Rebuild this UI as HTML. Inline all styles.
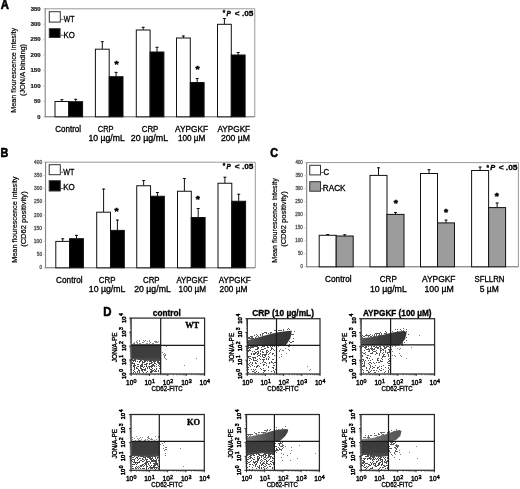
<!DOCTYPE html>
<html><head><meta charset="utf-8"><style>html,body{margin:0;padding:0;background:#fff;width:520px;height:489px;overflow:hidden}svg{display:block;filter:blur(0.3px)}</style></head><body>
<svg width="520" height="489" viewBox="0 0 520 489">
<rect width="520" height="489" fill="#fff"/>
<text x="0.82" y="8.80" font-size="12.3" font-weight="bold" font-style="normal" font-family="'Liberation Sans', Arial, sans-serif" fill="#000" textLength="8.18" lengthAdjust="spacingAndGlyphs" stroke="#000" stroke-width="0.6">A</text>
<text x="0.38" y="156.70" font-size="12.3" font-weight="bold" font-style="normal" font-family="'Liberation Sans', Arial, sans-serif" fill="#000" textLength="7.82" lengthAdjust="spacingAndGlyphs" stroke="#000" stroke-width="0.6">B</text>
<text x="270.36" y="156.90" font-size="12.3" font-weight="bold" font-style="normal" font-family="'Liberation Sans', Arial, sans-serif" fill="#000" textLength="7.73" lengthAdjust="spacingAndGlyphs" stroke="#000" stroke-width="0.6">C</text>
<text x="103.24" y="315.90" font-size="12.3" font-weight="bold" font-style="normal" font-family="'Liberation Sans', Arial, sans-serif" fill="#000" textLength="8.24" lengthAdjust="spacingAndGlyphs" stroke="#000" stroke-width="0.6">D</text>
<line x1="45.20" y1="8.80" x2="254.80" y2="8.80" stroke="#999" stroke-width="1"/>
<line x1="254.80" y1="8.80" x2="254.80" y2="116.80" stroke="#999" stroke-width="1"/>
<line x1="45.20" y1="8.30" x2="45.20" y2="117.30" stroke="#777" stroke-width="1"/>
<line x1="45.20" y1="116.80" x2="254.80" y2="116.80" stroke="#666" stroke-width="1"/>
<line x1="43.20" y1="116.80" x2="45.20" y2="116.80" stroke="#bbb" stroke-width="0.8"/>
<text x="37.32" y="118.60" font-size="5" font-weight="bold" font-style="normal" font-family="'Liberation Sans', Arial, sans-serif" fill="#222" textLength="3.22" lengthAdjust="spacingAndGlyphs" stroke="#222" stroke-width="0.22">0</text>
<line x1="43.20" y1="101.37" x2="45.20" y2="101.37" stroke="#bbb" stroke-width="0.8"/>
<text x="34.02" y="103.17" font-size="5" font-weight="bold" font-style="normal" font-family="'Liberation Sans', Arial, sans-serif" fill="#222" textLength="6.52" lengthAdjust="spacingAndGlyphs" stroke="#222" stroke-width="0.22">50</text>
<line x1="43.20" y1="85.94" x2="45.20" y2="85.94" stroke="#bbb" stroke-width="0.8"/>
<text x="30.47" y="87.74" font-size="5" font-weight="bold" font-style="normal" font-family="'Liberation Sans', Arial, sans-serif" fill="#222" textLength="10.08" lengthAdjust="spacingAndGlyphs" stroke="#222" stroke-width="0.22">100</text>
<line x1="43.20" y1="70.51" x2="45.20" y2="70.51" stroke="#bbb" stroke-width="0.8"/>
<text x="30.47" y="72.31" font-size="5" font-weight="bold" font-style="normal" font-family="'Liberation Sans', Arial, sans-serif" fill="#222" textLength="10.08" lengthAdjust="spacingAndGlyphs" stroke="#222" stroke-width="0.22">150</text>
<line x1="43.20" y1="55.09" x2="45.20" y2="55.09" stroke="#bbb" stroke-width="0.8"/>
<text x="30.64" y="56.89" font-size="5" font-weight="bold" font-style="normal" font-family="'Liberation Sans', Arial, sans-serif" fill="#222" textLength="9.90" lengthAdjust="spacingAndGlyphs" stroke="#222" stroke-width="0.22">200</text>
<line x1="43.20" y1="39.66" x2="45.20" y2="39.66" stroke="#bbb" stroke-width="0.8"/>
<text x="30.64" y="41.46" font-size="5" font-weight="bold" font-style="normal" font-family="'Liberation Sans', Arial, sans-serif" fill="#222" textLength="9.90" lengthAdjust="spacingAndGlyphs" stroke="#222" stroke-width="0.22">250</text>
<line x1="43.20" y1="24.23" x2="45.20" y2="24.23" stroke="#bbb" stroke-width="0.8"/>
<text x="30.71" y="26.03" font-size="5" font-weight="bold" font-style="normal" font-family="'Liberation Sans', Arial, sans-serif" fill="#222" textLength="9.83" lengthAdjust="spacingAndGlyphs" stroke="#222" stroke-width="0.22">300</text>
<line x1="43.20" y1="8.80" x2="45.20" y2="8.80" stroke="#bbb" stroke-width="0.8"/>
<text x="30.71" y="10.60" font-size="5" font-weight="bold" font-style="normal" font-family="'Liberation Sans', Arial, sans-serif" fill="#222" textLength="9.83" lengthAdjust="spacingAndGlyphs" stroke="#222" stroke-width="0.22">350</text>
<line x1="61.90" y1="99.20" x2="61.90" y2="101.50" stroke="#111" stroke-width="1"/>
<line x1="60.40" y1="99.70" x2="63.40" y2="99.70" stroke="#111" stroke-width="1"/>
<rect x="55.00" y="101.50" width="13.80" height="15.30" fill="#fff" stroke="#111" stroke-width="1"/>
<line x1="75.70" y1="98.80" x2="75.70" y2="101.70" stroke="#111" stroke-width="1"/>
<line x1="74.20" y1="99.30" x2="77.20" y2="99.30" stroke="#111" stroke-width="1"/>
<rect x="68.80" y="101.70" width="13.80" height="15.10" fill="#000" stroke="#111" stroke-width="1"/>
<line x1="102.30" y1="41.20" x2="102.30" y2="49.20" stroke="#111" stroke-width="1"/>
<line x1="100.80" y1="41.70" x2="103.80" y2="41.70" stroke="#111" stroke-width="1"/>
<rect x="95.40" y="49.20" width="13.80" height="67.60" fill="#fff" stroke="#111" stroke-width="1"/>
<line x1="116.10" y1="71.90" x2="116.10" y2="76.70" stroke="#111" stroke-width="1"/>
<line x1="114.60" y1="72.40" x2="117.60" y2="72.40" stroke="#111" stroke-width="1"/>
<rect x="109.20" y="76.70" width="13.80" height="40.10" fill="#000" stroke="#111" stroke-width="1"/>
<line x1="143.20" y1="26.80" x2="143.20" y2="30.00" stroke="#111" stroke-width="1"/>
<line x1="141.70" y1="27.30" x2="144.70" y2="27.30" stroke="#111" stroke-width="1"/>
<rect x="136.30" y="30.00" width="13.80" height="86.80" fill="#fff" stroke="#111" stroke-width="1"/>
<line x1="157.00" y1="46.80" x2="157.00" y2="52.00" stroke="#111" stroke-width="1"/>
<line x1="155.50" y1="47.30" x2="158.50" y2="47.30" stroke="#111" stroke-width="1"/>
<rect x="150.10" y="52.00" width="13.80" height="64.80" fill="#000" stroke="#111" stroke-width="1"/>
<line x1="183.40" y1="35.50" x2="183.40" y2="38.00" stroke="#111" stroke-width="1"/>
<line x1="181.90" y1="36.00" x2="184.90" y2="36.00" stroke="#111" stroke-width="1"/>
<rect x="176.50" y="38.00" width="13.80" height="78.80" fill="#fff" stroke="#111" stroke-width="1"/>
<line x1="197.20" y1="78.00" x2="197.20" y2="82.50" stroke="#111" stroke-width="1"/>
<line x1="195.70" y1="78.50" x2="198.70" y2="78.50" stroke="#111" stroke-width="1"/>
<rect x="190.30" y="82.50" width="13.80" height="34.30" fill="#000" stroke="#111" stroke-width="1"/>
<line x1="224.40" y1="18.00" x2="224.40" y2="24.30" stroke="#111" stroke-width="1"/>
<line x1="222.90" y1="18.50" x2="225.90" y2="18.50" stroke="#111" stroke-width="1"/>
<rect x="217.50" y="24.30" width="13.80" height="92.50" fill="#fff" stroke="#111" stroke-width="1"/>
<line x1="238.20" y1="52.00" x2="238.20" y2="55.00" stroke="#111" stroke-width="1"/>
<line x1="236.70" y1="52.50" x2="239.70" y2="52.50" stroke="#111" stroke-width="1"/>
<rect x="231.30" y="55.00" width="13.80" height="61.80" fill="#000" stroke="#111" stroke-width="1"/>
<text x="114.46" y="67.22" font-size="8.4" font-weight="bold" font-family="'Liberation Sans', Arial, sans-serif" textLength="4.08" lengthAdjust="spacingAndGlyphs" stroke="#000" stroke-width="0.5">*</text>
<text x="195.46" y="71.72" font-size="8.4" font-weight="bold" font-family="'Liberation Sans', Arial, sans-serif" textLength="4.08" lengthAdjust="spacingAndGlyphs" stroke="#000" stroke-width="0.5">*</text>
<rect x="49.30" y="11.70" width="11.00" height="10.40" fill="#fff" stroke="#333" stroke-width="1"/>
<line x1="60.80" y1="19.40" x2="63.50" y2="19.40" stroke="#444" stroke-width="0.8"/>
<text x="63.77" y="21.70" font-size="8.8" font-weight="normal" font-style="normal" font-family="'Liberation Sans', Arial, sans-serif" fill="#000" textLength="10.69" lengthAdjust="spacingAndGlyphs" stroke="#000" stroke-width="0.32">WT</text>
<rect x="49.30" y="28.70" width="10.80" height="8.80" fill="#000" stroke="#333" stroke-width="1"/>
<line x1="60.60" y1="35.30" x2="63.80" y2="35.30" stroke="#444" stroke-width="0.8"/>
<text x="63.46" y="37.60" font-size="8.8" font-weight="normal" font-style="normal" font-family="'Liberation Sans', Arial, sans-serif" fill="#000" textLength="11.21" lengthAdjust="spacingAndGlyphs" stroke="#000" stroke-width="0.32">KO</text>
<text x="222.70" y="15.20" font-size="6.5" text-anchor="start" font-weight="bold" font-style="normal" font-family="'Liberation Sans', Arial, sans-serif" fill="#000" stroke="#000" stroke-width="0.3">*</text>
<text x="226.39" y="16.20" font-size="7.8" font-weight="bold" font-style="italic" font-family="'Liberation Sans', Arial, sans-serif" fill="#000" textLength="4.30" lengthAdjust="spacingAndGlyphs" stroke="#000" stroke-width="0.4">P</text>
<text x="234.85" y="16.20" font-size="7.8" font-weight="bold" font-style="normal" font-family="'Liberation Sans', Arial, sans-serif" fill="#000" textLength="18.58" lengthAdjust="spacingAndGlyphs" stroke="#000" stroke-width="0.3">&lt; .05</text>
<text x="55.29" y="132.40" font-size="8.6" font-weight="normal" font-style="normal" font-family="'Liberation Sans', Arial, sans-serif" fill="#000" textLength="25.74" lengthAdjust="spacingAndGlyphs" stroke="#000" stroke-width="0.32">Control</text>
<text x="97.72" y="132.20" font-size="8.6" font-weight="normal" font-style="normal" font-family="'Liberation Sans', Arial, sans-serif" fill="#000" textLength="15.88" lengthAdjust="spacingAndGlyphs" stroke="#000" stroke-width="0.32">CRP</text>
<text x="88.54" y="141.30" font-size="8.6" font-weight="normal" font-style="normal" font-family="'Liberation Sans', Arial, sans-serif" fill="#000" textLength="36.25" lengthAdjust="spacingAndGlyphs" stroke="#000" stroke-width="0.32">10 µg/mL</text>
<text x="141.70" y="132.20" font-size="8.6" font-weight="normal" font-style="normal" font-family="'Liberation Sans', Arial, sans-serif" fill="#000" textLength="16.72" lengthAdjust="spacingAndGlyphs" stroke="#000" stroke-width="0.32">CRP</text>
<text x="130.85" y="141.30" font-size="8.6" font-weight="normal" font-style="normal" font-family="'Liberation Sans', Arial, sans-serif" fill="#000" textLength="37.34" lengthAdjust="spacingAndGlyphs" stroke="#000" stroke-width="0.32">20 µg/mL</text>
<text x="175.08" y="132.20" font-size="8.6" font-weight="normal" font-style="normal" font-family="'Liberation Sans', Arial, sans-serif" fill="#000" textLength="33.04" lengthAdjust="spacingAndGlyphs" stroke="#000" stroke-width="0.32">AYPGKF</text>
<text x="177.88" y="141.30" font-size="8.6" font-weight="normal" font-style="normal" font-family="'Liberation Sans', Arial, sans-serif" fill="#000" textLength="27.50" lengthAdjust="spacingAndGlyphs" stroke="#000" stroke-width="0.32">100 µM</text>
<text x="217.48" y="132.20" font-size="8.6" font-weight="normal" font-style="normal" font-family="'Liberation Sans', Arial, sans-serif" fill="#000" textLength="32.64" lengthAdjust="spacingAndGlyphs" stroke="#000" stroke-width="0.32">AYPGKF</text>
<text x="220.96" y="141.30" font-size="8.6" font-weight="normal" font-style="normal" font-family="'Liberation Sans', Arial, sans-serif" fill="#000" textLength="29.05" lengthAdjust="spacingAndGlyphs" stroke="#000" stroke-width="0.32">200 µM</text>
<text transform="translate(15.50,112.69) rotate(-90)" font-size="7.2" font-weight="normal" font-style="normal" font-family="'Liberation Sans', Arial, sans-serif" fill="#000" textLength="84.80" lengthAdjust="spacingAndGlyphs" stroke="#000" stroke-width="0.2">Mean flourescence intesity</text>
<text transform="translate(24.80,96.05) rotate(-90)" font-size="7.2" font-weight="normal" font-style="normal" font-family="'Liberation Sans', Arial, sans-serif" fill="#000" textLength="52.11" lengthAdjust="spacingAndGlyphs" stroke="#000" stroke-width="0.2">(JON/A binding)</text>
<line x1="45.60" y1="162.20" x2="255.30" y2="162.20" stroke="#999" stroke-width="1"/>
<line x1="255.30" y1="162.20" x2="255.30" y2="267.80" stroke="#999" stroke-width="1"/>
<line x1="45.60" y1="161.70" x2="45.60" y2="268.30" stroke="#777" stroke-width="1"/>
<line x1="45.60" y1="267.80" x2="255.30" y2="267.80" stroke="#666" stroke-width="1"/>
<line x1="43.60" y1="267.80" x2="45.60" y2="267.80" stroke="#bbb" stroke-width="0.8"/>
<text x="39.57" y="269.40" font-size="4.6" font-weight="normal" font-style="normal" font-family="'Liberation Sans', Arial, sans-serif" fill="#555" textLength="2.50" lengthAdjust="spacingAndGlyphs" stroke="#555" stroke-width="0.3">0</text>
<line x1="43.60" y1="254.60" x2="45.60" y2="254.60" stroke="#bbb" stroke-width="0.8"/>
<text x="36.81" y="256.20" font-size="4.6" font-weight="normal" font-style="normal" font-family="'Liberation Sans', Arial, sans-serif" fill="#555" textLength="5.28" lengthAdjust="spacingAndGlyphs" stroke="#555" stroke-width="0.3">50</text>
<line x1="43.60" y1="241.40" x2="45.60" y2="241.40" stroke="#bbb" stroke-width="0.8"/>
<text x="33.87" y="243.00" font-size="4.6" font-weight="normal" font-style="normal" font-family="'Liberation Sans', Arial, sans-serif" fill="#555" textLength="8.22" lengthAdjust="spacingAndGlyphs" stroke="#555" stroke-width="0.3">100</text>
<line x1="43.60" y1="228.20" x2="45.60" y2="228.20" stroke="#bbb" stroke-width="0.8"/>
<text x="33.87" y="229.80" font-size="4.6" font-weight="normal" font-style="normal" font-family="'Liberation Sans', Arial, sans-serif" fill="#555" textLength="8.22" lengthAdjust="spacingAndGlyphs" stroke="#555" stroke-width="0.3">150</text>
<line x1="43.60" y1="215.00" x2="45.60" y2="215.00" stroke="#bbb" stroke-width="0.8"/>
<text x="34.01" y="216.60" font-size="4.6" font-weight="normal" font-style="normal" font-family="'Liberation Sans', Arial, sans-serif" fill="#555" textLength="8.08" lengthAdjust="spacingAndGlyphs" stroke="#555" stroke-width="0.3">200</text>
<line x1="43.60" y1="201.80" x2="45.60" y2="201.80" stroke="#bbb" stroke-width="0.8"/>
<text x="34.01" y="203.40" font-size="4.6" font-weight="normal" font-style="normal" font-family="'Liberation Sans', Arial, sans-serif" fill="#555" textLength="8.08" lengthAdjust="spacingAndGlyphs" stroke="#555" stroke-width="0.3">250</text>
<line x1="43.60" y1="188.60" x2="45.60" y2="188.60" stroke="#bbb" stroke-width="0.8"/>
<text x="34.07" y="190.20" font-size="4.6" font-weight="normal" font-style="normal" font-family="'Liberation Sans', Arial, sans-serif" fill="#555" textLength="8.02" lengthAdjust="spacingAndGlyphs" stroke="#555" stroke-width="0.3">300</text>
<line x1="43.60" y1="175.40" x2="45.60" y2="175.40" stroke="#bbb" stroke-width="0.8"/>
<text x="34.07" y="177.00" font-size="4.6" font-weight="normal" font-style="normal" font-family="'Liberation Sans', Arial, sans-serif" fill="#555" textLength="8.02" lengthAdjust="spacingAndGlyphs" stroke="#555" stroke-width="0.3">350</text>
<line x1="43.60" y1="162.20" x2="45.60" y2="162.20" stroke="#bbb" stroke-width="0.8"/>
<text x="34.14" y="163.80" font-size="4.6" font-weight="normal" font-style="normal" font-family="'Liberation Sans', Arial, sans-serif" fill="#555" textLength="7.95" lengthAdjust="spacingAndGlyphs" stroke="#555" stroke-width="0.3">400</text>
<line x1="62.70" y1="238.30" x2="62.70" y2="241.40" stroke="#111" stroke-width="1"/>
<line x1="61.20" y1="238.80" x2="64.20" y2="238.80" stroke="#111" stroke-width="1"/>
<rect x="55.80" y="241.40" width="13.80" height="26.40" fill="#fff" stroke="#111" stroke-width="1"/>
<line x1="76.50" y1="234.90" x2="76.50" y2="238.70" stroke="#111" stroke-width="1"/>
<line x1="75.00" y1="235.40" x2="78.00" y2="235.40" stroke="#111" stroke-width="1"/>
<rect x="69.60" y="238.70" width="13.80" height="29.10" fill="#000" stroke="#111" stroke-width="1"/>
<line x1="103.60" y1="188.60" x2="103.60" y2="212.20" stroke="#111" stroke-width="1"/>
<line x1="102.10" y1="189.10" x2="105.10" y2="189.10" stroke="#111" stroke-width="1"/>
<rect x="96.70" y="212.20" width="13.80" height="55.60" fill="#fff" stroke="#111" stroke-width="1"/>
<line x1="117.40" y1="219.60" x2="117.40" y2="230.40" stroke="#111" stroke-width="1"/>
<line x1="115.90" y1="220.10" x2="118.90" y2="220.10" stroke="#111" stroke-width="1"/>
<rect x="110.50" y="230.40" width="13.80" height="37.40" fill="#000" stroke="#111" stroke-width="1"/>
<line x1="143.65" y1="180.00" x2="143.65" y2="185.75" stroke="#111" stroke-width="1"/>
<line x1="142.15" y1="180.50" x2="145.15" y2="180.50" stroke="#111" stroke-width="1"/>
<rect x="136.75" y="185.75" width="13.80" height="82.05" fill="#fff" stroke="#111" stroke-width="1"/>
<line x1="157.45" y1="192.00" x2="157.45" y2="196.25" stroke="#111" stroke-width="1"/>
<line x1="155.95" y1="192.50" x2="158.95" y2="192.50" stroke="#111" stroke-width="1"/>
<rect x="150.55" y="196.25" width="13.80" height="71.55" fill="#000" stroke="#111" stroke-width="1"/>
<line x1="184.40" y1="178.00" x2="184.40" y2="191.25" stroke="#111" stroke-width="1"/>
<line x1="182.90" y1="178.50" x2="185.90" y2="178.50" stroke="#111" stroke-width="1"/>
<rect x="177.50" y="191.25" width="13.80" height="76.55" fill="#fff" stroke="#111" stroke-width="1"/>
<line x1="198.20" y1="208.00" x2="198.20" y2="217.50" stroke="#111" stroke-width="1"/>
<line x1="196.70" y1="208.50" x2="199.70" y2="208.50" stroke="#111" stroke-width="1"/>
<rect x="191.30" y="217.50" width="13.80" height="50.30" fill="#000" stroke="#111" stroke-width="1"/>
<line x1="224.90" y1="176.75" x2="224.90" y2="183.25" stroke="#111" stroke-width="1"/>
<line x1="223.40" y1="177.25" x2="226.40" y2="177.25" stroke="#111" stroke-width="1"/>
<rect x="218.00" y="183.25" width="13.80" height="84.55" fill="#fff" stroke="#111" stroke-width="1"/>
<line x1="238.70" y1="193.75" x2="238.70" y2="201.25" stroke="#111" stroke-width="1"/>
<line x1="237.20" y1="194.25" x2="240.20" y2="194.25" stroke="#111" stroke-width="1"/>
<rect x="231.80" y="201.25" width="13.80" height="66.55" fill="#000" stroke="#111" stroke-width="1"/>
<text x="114.46" y="214.22" font-size="8.4" font-weight="bold" font-family="'Liberation Sans', Arial, sans-serif" textLength="4.08" lengthAdjust="spacingAndGlyphs" stroke="#000" stroke-width="0.5">*</text>
<text x="195.71" y="202.22" font-size="8.4" font-weight="bold" font-family="'Liberation Sans', Arial, sans-serif" textLength="4.08" lengthAdjust="spacingAndGlyphs" stroke="#000" stroke-width="0.5">*</text>
<rect x="49.20" y="164.70" width="11.10" height="10.00" fill="#fff" stroke="#333" stroke-width="1"/>
<line x1="60.80" y1="172.30" x2="63.10" y2="172.30" stroke="#444" stroke-width="0.8"/>
<text x="63.37" y="174.80" font-size="8.8" font-weight="normal" font-style="normal" font-family="'Liberation Sans', Arial, sans-serif" fill="#000" textLength="11.10" lengthAdjust="spacingAndGlyphs" stroke="#000" stroke-width="0.32">WT</text>
<rect x="49.20" y="180.70" width="11.10" height="10.30" fill="#000" stroke="#333" stroke-width="1"/>
<line x1="60.80" y1="188.50" x2="63.50" y2="188.50" stroke="#444" stroke-width="0.8"/>
<text x="63.14" y="190.20" font-size="8.8" font-weight="normal" font-style="normal" font-family="'Liberation Sans', Arial, sans-serif" fill="#000" textLength="11.54" lengthAdjust="spacingAndGlyphs" stroke="#000" stroke-width="0.32">KO</text>
<text x="222.70" y="168.30" font-size="6.5" text-anchor="start" font-weight="bold" font-style="normal" font-family="'Liberation Sans', Arial, sans-serif" fill="#000" stroke="#000" stroke-width="0.3">*</text>
<text x="226.39" y="169.30" font-size="7.8" font-weight="bold" font-style="italic" font-family="'Liberation Sans', Arial, sans-serif" fill="#000" textLength="4.30" lengthAdjust="spacingAndGlyphs" stroke="#000" stroke-width="0.4">P</text>
<text x="234.85" y="169.30" font-size="7.8" font-weight="bold" font-style="normal" font-family="'Liberation Sans', Arial, sans-serif" fill="#000" textLength="18.58" lengthAdjust="spacingAndGlyphs" stroke="#000" stroke-width="0.3">&lt; .05</text>
<text x="56.08" y="282.80" font-size="8.6" font-weight="normal" font-style="normal" font-family="'Liberation Sans', Arial, sans-serif" fill="#000" textLength="26.47" lengthAdjust="spacingAndGlyphs" stroke="#000" stroke-width="0.32">Control</text>
<text x="98.80" y="282.80" font-size="8.6" font-weight="normal" font-style="normal" font-family="'Liberation Sans', Arial, sans-serif" fill="#000" textLength="16.72" lengthAdjust="spacingAndGlyphs" stroke="#000" stroke-width="0.32">CRP</text>
<text x="88.84" y="292.00" font-size="8.6" font-weight="normal" font-style="normal" font-family="'Liberation Sans', Arial, sans-serif" fill="#000" textLength="36.55" lengthAdjust="spacingAndGlyphs" stroke="#000" stroke-width="0.32">10 µg/mL</text>
<text x="143.00" y="282.80" font-size="8.6" font-weight="normal" font-style="normal" font-family="'Liberation Sans', Arial, sans-serif" fill="#000" textLength="16.61" lengthAdjust="spacingAndGlyphs" stroke="#000" stroke-width="0.32">CRP</text>
<text x="134.16" y="292.00" font-size="8.6" font-weight="normal" font-style="normal" font-family="'Liberation Sans', Arial, sans-serif" fill="#000" textLength="36.63" lengthAdjust="spacingAndGlyphs" stroke="#000" stroke-width="0.32">20 µg/mL</text>
<text x="176.48" y="282.80" font-size="8.6" font-weight="normal" font-style="normal" font-family="'Liberation Sans', Arial, sans-serif" fill="#000" textLength="31.22" lengthAdjust="spacingAndGlyphs" stroke="#000" stroke-width="0.32">AYPGKF</text>
<text x="178.58" y="292.00" font-size="8.6" font-weight="normal" font-style="normal" font-family="'Liberation Sans', Arial, sans-serif" fill="#000" textLength="27.50" lengthAdjust="spacingAndGlyphs" stroke="#000" stroke-width="0.32">100 µM</text>
<text x="218.78" y="282.80" font-size="8.6" font-weight="normal" font-style="normal" font-family="'Liberation Sans', Arial, sans-serif" fill="#000" textLength="32.03" lengthAdjust="spacingAndGlyphs" stroke="#000" stroke-width="0.32">AYPGKF</text>
<text x="219.58" y="292.00" font-size="8.6" font-weight="normal" font-style="normal" font-family="'Liberation Sans', Arial, sans-serif" fill="#000" textLength="27.69" lengthAdjust="spacingAndGlyphs" stroke="#000" stroke-width="0.32">200 µM</text>
<text transform="translate(16.60,262.80) rotate(-90)" font-size="7.2" font-weight="normal" font-style="normal" font-family="'Liberation Sans', Arial, sans-serif" fill="#000" textLength="86.31" lengthAdjust="spacingAndGlyphs" stroke="#000" stroke-width="0.2">Mean flourescence intesity</text>
<text transform="translate(25.80,246.87) rotate(-90)" font-size="7.2" font-weight="normal" font-style="normal" font-family="'Liberation Sans', Arial, sans-serif" fill="#000" textLength="55.54" lengthAdjust="spacingAndGlyphs" stroke="#000" stroke-width="0.2">(CD62 positivity)</text>
<line x1="306.70" y1="162.60" x2="518.40" y2="162.60" stroke="#999" stroke-width="1"/>
<line x1="518.40" y1="162.60" x2="518.40" y2="266.80" stroke="#999" stroke-width="1"/>
<line x1="306.70" y1="162.10" x2="306.70" y2="267.30" stroke="#777" stroke-width="1"/>
<line x1="306.70" y1="266.80" x2="518.40" y2="266.80" stroke="#666" stroke-width="1"/>
<line x1="304.70" y1="266.80" x2="306.70" y2="266.80" stroke="#bbb" stroke-width="0.8"/>
<text x="300.49" y="268.40" font-size="4.6" font-weight="normal" font-style="normal" font-family="'Liberation Sans', Arial, sans-serif" fill="#555" textLength="2.27" lengthAdjust="spacingAndGlyphs" stroke="#555" stroke-width="0.3">0</text>
<line x1="304.70" y1="253.78" x2="306.70" y2="253.78" stroke="#bbb" stroke-width="0.8"/>
<text x="297.93" y="255.38" font-size="4.6" font-weight="normal" font-style="normal" font-family="'Liberation Sans', Arial, sans-serif" fill="#555" textLength="4.84" lengthAdjust="spacingAndGlyphs" stroke="#555" stroke-width="0.3">50</text>
<line x1="304.70" y1="240.75" x2="306.70" y2="240.75" stroke="#bbb" stroke-width="0.8"/>
<text x="295.20" y="242.35" font-size="4.6" font-weight="normal" font-style="normal" font-family="'Liberation Sans', Arial, sans-serif" fill="#555" textLength="7.57" lengthAdjust="spacingAndGlyphs" stroke="#555" stroke-width="0.3">100</text>
<line x1="304.70" y1="227.73" x2="306.70" y2="227.73" stroke="#bbb" stroke-width="0.8"/>
<text x="295.20" y="229.33" font-size="4.6" font-weight="normal" font-style="normal" font-family="'Liberation Sans', Arial, sans-serif" fill="#555" textLength="7.57" lengthAdjust="spacingAndGlyphs" stroke="#555" stroke-width="0.3">150</text>
<line x1="304.70" y1="214.70" x2="306.70" y2="214.70" stroke="#bbb" stroke-width="0.8"/>
<text x="295.33" y="216.30" font-size="4.6" font-weight="normal" font-style="normal" font-family="'Liberation Sans', Arial, sans-serif" fill="#555" textLength="7.45" lengthAdjust="spacingAndGlyphs" stroke="#555" stroke-width="0.3">200</text>
<line x1="304.70" y1="201.68" x2="306.70" y2="201.68" stroke="#bbb" stroke-width="0.8"/>
<text x="295.33" y="203.28" font-size="4.6" font-weight="normal" font-style="normal" font-family="'Liberation Sans', Arial, sans-serif" fill="#555" textLength="7.45" lengthAdjust="spacingAndGlyphs" stroke="#555" stroke-width="0.3">250</text>
<line x1="304.70" y1="188.65" x2="306.70" y2="188.65" stroke="#bbb" stroke-width="0.8"/>
<text x="295.38" y="190.25" font-size="4.6" font-weight="normal" font-style="normal" font-family="'Liberation Sans', Arial, sans-serif" fill="#555" textLength="7.39" lengthAdjust="spacingAndGlyphs" stroke="#555" stroke-width="0.3">300</text>
<line x1="304.70" y1="175.62" x2="306.70" y2="175.62" stroke="#bbb" stroke-width="0.8"/>
<text x="295.38" y="177.22" font-size="4.6" font-weight="normal" font-style="normal" font-family="'Liberation Sans', Arial, sans-serif" fill="#555" textLength="7.39" lengthAdjust="spacingAndGlyphs" stroke="#555" stroke-width="0.3">350</text>
<line x1="304.70" y1="162.60" x2="306.70" y2="162.60" stroke="#bbb" stroke-width="0.8"/>
<text x="295.45" y="164.20" font-size="4.6" font-weight="normal" font-style="normal" font-family="'Liberation Sans', Arial, sans-serif" fill="#555" textLength="7.32" lengthAdjust="spacingAndGlyphs" stroke="#555" stroke-width="0.3">400</text>
<line x1="327.70" y1="234.00" x2="327.70" y2="235.30" stroke="#111" stroke-width="1"/>
<line x1="326.20" y1="234.50" x2="329.20" y2="234.50" stroke="#111" stroke-width="1"/>
<rect x="319.20" y="235.30" width="17.00" height="31.50" fill="#fff" stroke="#111" stroke-width="1"/>
<line x1="344.70" y1="234.30" x2="344.70" y2="236.00" stroke="#111" stroke-width="1"/>
<line x1="343.20" y1="234.80" x2="346.20" y2="234.80" stroke="#111" stroke-width="1"/>
<rect x="336.20" y="236.00" width="17.00" height="30.80" fill="#9c9c9c" stroke="#111" stroke-width="1"/>
<line x1="378.50" y1="167.30" x2="378.50" y2="175.40" stroke="#111" stroke-width="1"/>
<line x1="377.00" y1="167.80" x2="380.00" y2="167.80" stroke="#111" stroke-width="1"/>
<rect x="370.00" y="175.40" width="17.00" height="91.40" fill="#fff" stroke="#111" stroke-width="1"/>
<line x1="395.50" y1="212.00" x2="395.50" y2="214.40" stroke="#111" stroke-width="1"/>
<line x1="394.00" y1="212.50" x2="397.00" y2="212.50" stroke="#111" stroke-width="1"/>
<rect x="387.00" y="214.40" width="17.00" height="52.40" fill="#9c9c9c" stroke="#111" stroke-width="1"/>
<line x1="429.00" y1="169.20" x2="429.00" y2="173.50" stroke="#111" stroke-width="1"/>
<line x1="427.50" y1="169.70" x2="430.50" y2="169.70" stroke="#111" stroke-width="1"/>
<rect x="420.50" y="173.50" width="17.00" height="93.30" fill="#fff" stroke="#111" stroke-width="1"/>
<line x1="446.00" y1="219.60" x2="446.00" y2="222.90" stroke="#111" stroke-width="1"/>
<line x1="444.50" y1="220.10" x2="447.50" y2="220.10" stroke="#111" stroke-width="1"/>
<rect x="437.50" y="222.90" width="17.00" height="43.90" fill="#9c9c9c" stroke="#111" stroke-width="1"/>
<line x1="480.10" y1="166.60" x2="480.10" y2="170.50" stroke="#111" stroke-width="1"/>
<line x1="478.60" y1="167.10" x2="481.60" y2="167.10" stroke="#111" stroke-width="1"/>
<rect x="471.60" y="170.50" width="17.00" height="96.30" fill="#fff" stroke="#111" stroke-width="1"/>
<line x1="497.10" y1="202.50" x2="497.10" y2="207.60" stroke="#111" stroke-width="1"/>
<line x1="495.60" y1="203.00" x2="498.60" y2="203.00" stroke="#111" stroke-width="1"/>
<rect x="488.60" y="207.60" width="17.00" height="59.20" fill="#9c9c9c" stroke="#111" stroke-width="1"/>
<text x="393.71" y="205.82" font-size="8.4" font-weight="bold" font-family="'Liberation Sans', Arial, sans-serif" textLength="4.08" lengthAdjust="spacingAndGlyphs" stroke="#000" stroke-width="0.5">*</text>
<text x="443.96" y="214.82" font-size="8.4" font-weight="bold" font-family="'Liberation Sans', Arial, sans-serif" textLength="4.08" lengthAdjust="spacingAndGlyphs" stroke="#000" stroke-width="0.5">*</text>
<text x="494.66" y="198.52" font-size="8.4" font-weight="bold" font-family="'Liberation Sans', Arial, sans-serif" textLength="4.08" lengthAdjust="spacingAndGlyphs" stroke="#000" stroke-width="0.5">*</text>
<rect x="309.75" y="165.30" width="10.75" height="9.60" fill="#fff" stroke="#333" stroke-width="1"/>
<line x1="321.00" y1="172.50" x2="323.70" y2="172.50" stroke="#444" stroke-width="0.8"/>
<text x="323.61" y="174.90" font-size="8.8" font-weight="normal" font-style="normal" font-family="'Liberation Sans', Arial, sans-serif" fill="#000" textLength="5.59" lengthAdjust="spacingAndGlyphs" stroke="#000" stroke-width="0.32">C</text>
<rect x="309.75" y="181.70" width="10.75" height="9.50" fill="#9c9c9c" stroke="#333" stroke-width="1"/>
<line x1="321.00" y1="188.70" x2="323.20" y2="188.70" stroke="#444" stroke-width="0.8"/>
<text x="322.83" y="191.25" font-size="8.8" font-weight="normal" font-style="normal" font-family="'Liberation Sans', Arial, sans-serif" fill="#000" textLength="22.76" lengthAdjust="spacingAndGlyphs" stroke="#000" stroke-width="0.32">RACK</text>
<text x="486.40" y="169.50" font-size="6.5" text-anchor="start" font-weight="bold" font-style="normal" font-family="'Liberation Sans', Arial, sans-serif" fill="#000" stroke="#000" stroke-width="0.3">*</text>
<text x="490.17" y="170.10" font-size="7.8" font-weight="bold" font-style="italic" font-family="'Liberation Sans', Arial, sans-serif" fill="#000" textLength="4.92" lengthAdjust="spacingAndGlyphs" stroke="#000" stroke-width="0.4">P</text>
<text x="498.65" y="170.10" font-size="7.8" font-weight="bold" font-style="normal" font-family="'Liberation Sans', Arial, sans-serif" fill="#000" textLength="18.89" lengthAdjust="spacingAndGlyphs" stroke="#000" stroke-width="0.3">&lt; .05</text>
<text x="325.08" y="282.20" font-size="8.6" font-weight="normal" font-style="normal" font-family="'Liberation Sans', Arial, sans-serif" fill="#000" textLength="26.47" lengthAdjust="spacingAndGlyphs" stroke="#000" stroke-width="0.32">Control</text>
<text x="379.69" y="282.20" font-size="8.6" font-weight="normal" font-style="normal" font-family="'Liberation Sans', Arial, sans-serif" fill="#000" textLength="17.14" lengthAdjust="spacingAndGlyphs" stroke="#000" stroke-width="0.32">CRP</text>
<text x="369.93" y="291.80" font-size="8.6" font-weight="normal" font-style="normal" font-family="'Liberation Sans', Arial, sans-serif" fill="#000" textLength="36.97" lengthAdjust="spacingAndGlyphs" stroke="#000" stroke-width="0.32">10 µg/mL</text>
<text x="421.88" y="282.20" font-size="8.6" font-weight="normal" font-style="normal" font-family="'Liberation Sans', Arial, sans-serif" fill="#000" textLength="33.65" lengthAdjust="spacingAndGlyphs" stroke="#000" stroke-width="0.32">AYPGKF</text>
<text x="424.43" y="291.80" font-size="8.6" font-weight="normal" font-style="normal" font-family="'Liberation Sans', Arial, sans-serif" fill="#000" textLength="29.39" lengthAdjust="spacingAndGlyphs" stroke="#000" stroke-width="0.32">100 µM</text>
<text x="474.44" y="282.20" font-size="8.6" font-weight="normal" font-style="normal" font-family="'Liberation Sans', Arial, sans-serif" fill="#000" textLength="29.99" lengthAdjust="spacingAndGlyphs" stroke="#000" stroke-width="0.32">SFLLRN</text>
<text x="479.76" y="291.80" font-size="8.6" font-weight="normal" font-style="normal" font-family="'Liberation Sans', Arial, sans-serif" fill="#000" textLength="19.04" lengthAdjust="spacingAndGlyphs" stroke="#000" stroke-width="0.32">5 µM</text>
<text transform="translate(276.60,262.79) rotate(-90)" font-size="7.2" font-weight="normal" font-style="normal" font-family="'Liberation Sans', Arial, sans-serif" fill="#000" textLength="84.50" lengthAdjust="spacingAndGlyphs" stroke="#000" stroke-width="0.2">Mean flourescence intesity</text>
<text transform="translate(285.90,246.87) rotate(-90)" font-size="7.2" font-weight="normal" font-style="normal" font-family="'Liberation Sans', Arial, sans-serif" fill="#000" textLength="55.54" lengthAdjust="spacingAndGlyphs" stroke="#000" stroke-width="0.2">(CD62 positivity)</text>
<defs><linearGradient id="gA" x1="0" y1="0" x2="1" y2="0"><stop offset="0" stop-color="#555"/><stop offset="0.4" stop-color="#3c3c3c"/><stop offset="1" stop-color="#333"/></linearGradient><linearGradient id="gB" x1="0" y1="0" x2="1" y2="0"><stop offset="0" stop-color="#7a7a7a"/><stop offset="0.55" stop-color="#505050"/><stop offset="1" stop-color="#404040"/></linearGradient><linearGradient id="gC" x1="0" y1="0" x2="1" y2="0"><stop offset="0" stop-color="#8a8a8a"/><stop offset="0.6" stop-color="#606060"/><stop offset="1" stop-color="#555"/></linearGradient><linearGradient id="gV" x1="0" y1="0" x2="0" y2="1"><stop offset="0" stop-color="#3a3a3a"/><stop offset="0.8" stop-color="#3e3e3e"/><stop offset="1" stop-color="#555"/></linearGradient></defs>
<polygon points="131.6,344.2 160.6,344.2 160.6,361.0 150.0,361.0 140.0,360.0 131.6,359.0" fill="url(#gV)"/>
<path d="M134 365h1v1h-1zM152 371h1v1h-1zM140 368h1v1h-1zM157 359h1v1h-1zM157 360h1v1h-1zM158 370h1v1h-1zM139 358h1v1h-1zM131 369h1v1h-1zM142 369h1v1h-1zM159 363h1v1h-1zM153 360h1v1h-1zM133 360h1v1h-1zM151 360h1v1h-1zM158 362h1v1h-1zM159 363h1v1h-1zM152 364h1v1h-1zM156 369h1v1h-1zM141 365h1v1h-1zM152 359h1v1h-1zM135 359h1v1h-1zM142 365h1v1h-1zM160 358h1v1h-1zM147 358h1v1h-1zM146 363h1v1h-1zM159 363h1v1h-1zM139 371h1v1h-1zM160 365h1v1h-1zM158 363h1v1h-1zM142 363h1v1h-1zM141 359h1v1h-1zM135 358h1v1h-1zM158 359h1v1h-1zM136 367h1v1h-1zM131 359h1v1h-1zM157 361h1v1h-1zM148 358h1v1h-1zM151 369h1v1h-1zM152 358h1v1h-1zM132 360h1v1h-1zM134 371h1v1h-1zM146 363h1v1h-1zM133 370h1v1h-1zM146 366h1v1h-1zM152 368h1v1h-1zM150 358h1v1h-1zM149 364h1v1h-1zM132 363h1v1h-1zM138 370h1v1h-1zM157 361h1v1h-1zM135 365h1v1h-1zM147 358h1v1h-1zM133 361h1v1h-1zM158 360h1v1h-1zM136 358h1v1h-1zM143 369h1v1h-1zM147 361h1v1h-1zM158 365h1v1h-1zM152 365h1v1h-1zM141 366h1v1h-1zM133 366h1v1h-1zM152 358h1v1h-1zM159 362h1v1h-1zM132 359h1v1h-1zM154 362h1v1h-1zM136 358h1v1h-1zM146 359h1v1h-1zM149 366h1v1h-1zM160 360h1v1h-1zM151 370h1v1h-1zM142 366h1v1h-1zM152 358h1v1h-1zM145 370h1v1h-1zM143 372h1v1h-1zM142 371h1v1h-1zM145 364h1v1h-1zM139 358h1v1h-1zM138 359h1v1h-1zM135 372h1v1h-1zM144 364h1v1h-1zM140 359h1v1h-1zM155 371h1v1h-1zM156 366h1v1h-1zM141 364h1v1h-1zM149 361h1v1h-1zM157 362h1v1h-1zM142 359h1v1h-1zM147 358h1v1h-1zM144 370h1v1h-1zM150 363h1v1h-1zM159 364h1v1h-1zM135 360h1v1h-1zM159 368h1v1h-1zM150 358h1v1h-1zM154 361h1v1h-1zM150 358h1v1h-1zM156 358h1v1h-1zM152 366h1v1h-1zM139 362h1v1h-1zM146 363h1v1h-1zM151 370h1v1h-1zM137 361h1v1h-1zM133 365h1v1h-1zM154 366h1v1h-1zM155 361h1v1h-1zM150 363h1v1h-1zM140 368h1v1h-1zM150 371h1v1h-1zM134 358h1v1h-1zM150 372h1v1h-1zM148 358h1v1h-1zM149 368h1v1h-1zM144 369h1v1h-1zM138 358h1v1h-1zM152 362h1v1h-1zM145 369h1v1h-1zM153 358h1v1h-1zM142 365h1v1h-1zM134 369h1v1h-1zM147 363h1v1h-1zM149 367h1v1h-1zM158 359h1v1h-1zM157 359h1v1h-1zM133 361h1v1h-1zM153 359h1v1h-1zM139 361h1v1h-1zM151 372h1v1h-1zM142 364h1v1h-1zM140 361h1v1h-1zM145 360h1v1h-1zM146 372h1v1h-1zM151 362h1v1h-1zM151 363h1v1h-1zM142 363h1v1h-1zM151 371h1v1h-1zM141 368h1v1h-1zM149 364h1v1h-1zM144 362h1v1h-1zM147 371h1v1h-1zM132 362h1v1h-1zM146 372h1v1h-1zM137 358h1v1h-1zM142 362h1v1h-1zM133 363h1v1h-1zM150 372h1v1h-1zM157 359h1v1h-1zM141 369h1v1h-1zM134 366h1v1h-1zM149 367h1v1h-1zM135 365h1v1h-1zM135 361h1v1h-1zM142 361h1v1h-1zM145 359h1v1h-1zM135 358h1v1h-1zM140 359h1v1h-1zM139 371h1v1h-1zM152 370h1v1h-1zM160 358h1v1h-1zM142 365h1v1h-1zM154 363h1v1h-1zM135 365h1v1h-1zM148 366h1v1h-1zM144 360h1v1h-1zM139 372h1v1h-1zM155 363h1v1h-1zM153 365h1v1h-1zM135 365h1v1h-1zM140 359h1v1h-1zM155 358h1v1h-1zM160 362h1v1h-1zM149 368h1v1h-1zM156 369h1v1h-1zM160 367h1v1h-1zM153 358h1v1h-1zM150 371h1v1h-1zM138 369h1v1h-1zM142 370h1v1h-1zM149 363h1v1h-1zM158 371h1v1h-1zM140 358h1v1h-1zM143 358h1v1h-1zM132 358h1v1h-1zM151 360h1v1h-1zM144 359h1v1h-1zM154 359h1v1h-1zM138 364h1v1h-1zM150 358h1v1h-1zM151 365h1v1h-1zM145 359h1v1h-1zM137 366h1v1h-1zM143 358h1v1h-1zM153 360h1v1h-1zM137 372h1v1h-1zM134 364h1v1h-1zM145 369h1v1h-1zM138 366h1v1h-1zM154 365h1v1h-1zM155 359h1v1h-1zM159 364h1v1h-1zM155 358h1v1h-1zM150 369h1v1h-1zM137 372h1v1h-1zM155 370h1v1h-1zM152 358h1v1h-1zM153 361h1v1h-1zM151 360h1v1h-1zM155 358h1v1h-1zM140 365h1v1h-1zM151 369h1v1h-1zM146 360h1v1h-1zM141 370h1v1h-1zM141 369h1v1h-1zM136 358h1v1h-1zM145 368h1v1h-1zM142 371h1v1h-1zM143 359h1v1h-1zM156 364h1v1h-1zM151 366h1v1h-1zM151 365h1v1h-1zM160 358h1v1h-1zM137 366h1v1h-1zM146 365h1v1h-1zM134 369h1v1h-1zM142 369h1v1h-1zM159 360h1v1h-1zM134 367h1v1h-1zM153 370h1v1h-1zM156 371h1v1h-1zM146 359h1v1h-1zM154 358h1v1h-1zM144 366h1v1h-1zM141 359h1v1h-1zM146 364h1v1h-1zM137 372h1v1h-1zM140 361h1v1h-1zM140 360h1v1h-1zM160 362h1v1h-1zM141 366h1v1h-1zM138 358h1v1h-1zM158 361h1v1h-1zM135 358h1v1h-1zM159 366h1v1h-1zM156 369h1v1h-1zM150 361h1v1h-1zM144 361h1v1h-1zM137 364h1v1h-1zM134 359h1v1h-1zM134 359h1v1h-1zM141 360h1v1h-1zM143 362h1v1h-1zM158 358h1v1h-1zM147 368h1v1h-1zM160 364h1v1h-1zM152 360h1v1h-1zM135 358h1v1h-1zM147 368h1v1h-1zM136 358h1v1h-1zM132 358h1v1h-1zM158 358h1v1h-1zM141 358h1v1h-1zM137 371h1v1h-1zM134 360h1v1h-1zM150 360h1v1h-1zM144 370h1v1h-1zM131 365h1v1h-1zM152 359h1v1h-1zM139 362h1v1h-1zM154 371h1v1h-1zM145 361h1v1h-1zM147 367h1v1h-1zM144 358h1v1h-1zM151 367h1v1h-1zM160 368h1v1h-1zM154 369h1v1h-1zM133 366h1v1h-1zM145 361h1v1h-1zM138 358h1v1h-1zM134 363h1v1h-1zM137 368h1v1h-1zM138 359h1v1h-1zM159 360h1v1h-1zM153 364h1v1h-1zM156 368h1v1h-1zM151 371h1v1h-1zM140 358h1v1h-1zM142 359h1v1h-1zM144 369h1v1h-1zM140 366h1v1h-1zM143 367h1v1h-1zM133 372h1v1h-1zM139 370h1v1h-1zM145 368h1v1h-1zM151 361h1v1h-1zM150 366h1v1h-1zM152 359h1v1h-1zM134 368h1v1h-1zM136 368h1v1h-1zM140 367h1v1h-1zM139 362h1v1h-1zM153 361h1v1h-1zM160 362h1v1h-1z" fill="#4a4a4a" fill-opacity="1.0"/>
<path d="M149 340h1v1h-1zM139 341h1v1h-1zM155 342h1v1h-1zM137 343h1v1h-1zM143 342h1v1h-1zM137 340h1v1h-1zM156 342h1v1h-1zM149 343h1v1h-1zM149 343h1v1h-1zM140 343h1v1h-1zM136 342h1v1h-1zM156 341h1v1h-1zM153 343h1v1h-1zM152 343h1v1h-1zM160 343h1v1h-1zM147 341h1v1h-1zM136 341h1v1h-1zM149 341h1v1h-1zM139 343h1v1h-1zM146 343h1v1h-1zM144 341h1v1h-1zM147 343h1v1h-1zM158 341h1v1h-1zM155 342h1v1h-1zM143 342h1v1h-1zM155 341h1v1h-1zM156 341h1v1h-1zM154 341h1v1h-1zM147 341h1v1h-1zM157 342h1v1h-1zM145 340h1v1h-1zM134 343h1v1h-1zM139 340h1v1h-1zM150 342h1v1h-1zM142 342h1v1h-1zM143 340h1v1h-1zM143 342h1v1h-1zM137 342h1v1h-1zM134 342h1v1h-1zM133 343h1v1h-1z" fill="#8a8a8a" fill-opacity="1.0"/>
<path d="M164 355h1v1h-1zM166 359h1v1h-1zM165 354h1v1h-1zM165 358h1v1h-1zM164 353h1v1h-1zM165 355h1v1h-1zM164 357h1v1h-1zM166 346h1v1h-1zM162 352h1v1h-1zM163 354h1v1h-1zM167 345h1v1h-1zM164 356h1v1h-1z" fill="#777" fill-opacity="1.0"/>
<path d="M196 358h1v1h-1zM184 365h1v1h-1z" fill="#888" fill-opacity="1.0"/>
<rect x="131.1" y="318.1" width="73.5" height="55.9" fill="none" stroke="#2a2a2a" stroke-width="1.25"/>
<line x1="160.70" y1="318.10" x2="160.70" y2="374.00" stroke="#1a1a1a" stroke-width="1.2"/>
<line x1="131.10" y1="345.40" x2="204.60" y2="345.40" stroke="#1a1a1a" stroke-width="1.2"/>
<line x1="131.10" y1="374.00" x2="131.10" y2="376.00" stroke="#222" stroke-width="0.9"/>
<line x1="129.10" y1="374.00" x2="131.10" y2="374.00" stroke="#222" stroke-width="0.9"/>
<line x1="136.63" y1="374.00" x2="136.63" y2="375.30" stroke="#444" stroke-width="0.7"/>
<line x1="129.80" y1="369.79" x2="131.10" y2="369.79" stroke="#444" stroke-width="0.7"/>
<line x1="139.87" y1="374.00" x2="139.87" y2="375.30" stroke="#444" stroke-width="0.7"/>
<line x1="129.80" y1="367.33" x2="131.10" y2="367.33" stroke="#444" stroke-width="0.7"/>
<line x1="142.16" y1="374.00" x2="142.16" y2="375.30" stroke="#444" stroke-width="0.7"/>
<line x1="129.80" y1="365.59" x2="131.10" y2="365.59" stroke="#444" stroke-width="0.7"/>
<line x1="143.94" y1="374.00" x2="143.94" y2="375.30" stroke="#444" stroke-width="0.7"/>
<line x1="129.80" y1="364.23" x2="131.10" y2="364.23" stroke="#444" stroke-width="0.7"/>
<line x1="145.40" y1="374.00" x2="145.40" y2="375.30" stroke="#444" stroke-width="0.7"/>
<line x1="129.80" y1="363.13" x2="131.10" y2="363.13" stroke="#444" stroke-width="0.7"/>
<line x1="146.63" y1="374.00" x2="146.63" y2="375.30" stroke="#444" stroke-width="0.7"/>
<line x1="129.80" y1="362.19" x2="131.10" y2="362.19" stroke="#444" stroke-width="0.7"/>
<line x1="147.69" y1="374.00" x2="147.69" y2="375.30" stroke="#444" stroke-width="0.7"/>
<line x1="129.80" y1="361.38" x2="131.10" y2="361.38" stroke="#444" stroke-width="0.7"/>
<line x1="148.63" y1="374.00" x2="148.63" y2="375.30" stroke="#444" stroke-width="0.7"/>
<line x1="129.80" y1="360.66" x2="131.10" y2="360.66" stroke="#444" stroke-width="0.7"/>
<text x="131.30" y="385.20" font-size="6.5" font-family="'Liberation Sans', Arial, sans-serif" text-anchor="middle" stroke="#000" stroke-width="0.4">10<tspan font-size="5.4" dx="0.3" dy="-2.4">0</tspan></text>
<text transform="translate(125.50,374.00) rotate(-90)" font-size="5.9" font-family="'Liberation Sans', Arial, sans-serif" text-anchor="middle" stroke="#000" stroke-width="0.45">10<tspan font-size="5.1" dx="0.6" dy="-2.1">0</tspan></text>
<line x1="149.47" y1="374.00" x2="149.47" y2="376.00" stroke="#222" stroke-width="0.9"/>
<line x1="129.10" y1="360.02" x2="131.10" y2="360.02" stroke="#222" stroke-width="0.9"/>
<line x1="155.01" y1="374.00" x2="155.01" y2="375.30" stroke="#444" stroke-width="0.7"/>
<line x1="129.80" y1="355.82" x2="131.10" y2="355.82" stroke="#444" stroke-width="0.7"/>
<line x1="158.24" y1="374.00" x2="158.24" y2="375.30" stroke="#444" stroke-width="0.7"/>
<line x1="129.80" y1="353.36" x2="131.10" y2="353.36" stroke="#444" stroke-width="0.7"/>
<line x1="160.54" y1="374.00" x2="160.54" y2="375.30" stroke="#444" stroke-width="0.7"/>
<line x1="129.80" y1="351.61" x2="131.10" y2="351.61" stroke="#444" stroke-width="0.7"/>
<line x1="162.32" y1="374.00" x2="162.32" y2="375.30" stroke="#444" stroke-width="0.7"/>
<line x1="129.80" y1="350.26" x2="131.10" y2="350.26" stroke="#444" stroke-width="0.7"/>
<line x1="163.77" y1="374.00" x2="163.77" y2="375.30" stroke="#444" stroke-width="0.7"/>
<line x1="129.80" y1="349.15" x2="131.10" y2="349.15" stroke="#444" stroke-width="0.7"/>
<line x1="165.00" y1="374.00" x2="165.00" y2="375.30" stroke="#444" stroke-width="0.7"/>
<line x1="129.80" y1="348.21" x2="131.10" y2="348.21" stroke="#444" stroke-width="0.7"/>
<line x1="166.07" y1="374.00" x2="166.07" y2="375.30" stroke="#444" stroke-width="0.7"/>
<line x1="129.80" y1="347.40" x2="131.10" y2="347.40" stroke="#444" stroke-width="0.7"/>
<line x1="167.01" y1="374.00" x2="167.01" y2="375.30" stroke="#444" stroke-width="0.7"/>
<line x1="129.80" y1="346.69" x2="131.10" y2="346.69" stroke="#444" stroke-width="0.7"/>
<text x="149.67" y="385.20" font-size="6.5" font-family="'Liberation Sans', Arial, sans-serif" text-anchor="middle" stroke="#000" stroke-width="0.4">10<tspan font-size="5.4" dx="0.3" dy="-2.4">1</tspan></text>
<text transform="translate(125.50,360.02) rotate(-90)" font-size="5.9" font-family="'Liberation Sans', Arial, sans-serif" text-anchor="middle" stroke="#000" stroke-width="0.45">10<tspan font-size="5.1" dx="0.6" dy="-2.1">1</tspan></text>
<line x1="167.85" y1="374.00" x2="167.85" y2="376.00" stroke="#222" stroke-width="0.9"/>
<line x1="129.10" y1="346.05" x2="131.10" y2="346.05" stroke="#222" stroke-width="0.9"/>
<line x1="173.38" y1="374.00" x2="173.38" y2="375.30" stroke="#444" stroke-width="0.7"/>
<line x1="129.80" y1="341.84" x2="131.10" y2="341.84" stroke="#444" stroke-width="0.7"/>
<line x1="176.62" y1="374.00" x2="176.62" y2="375.30" stroke="#444" stroke-width="0.7"/>
<line x1="129.80" y1="339.38" x2="131.10" y2="339.38" stroke="#444" stroke-width="0.7"/>
<line x1="178.91" y1="374.00" x2="178.91" y2="375.30" stroke="#444" stroke-width="0.7"/>
<line x1="129.80" y1="337.64" x2="131.10" y2="337.64" stroke="#444" stroke-width="0.7"/>
<line x1="180.69" y1="374.00" x2="180.69" y2="375.30" stroke="#444" stroke-width="0.7"/>
<line x1="129.80" y1="336.28" x2="131.10" y2="336.28" stroke="#444" stroke-width="0.7"/>
<line x1="182.15" y1="374.00" x2="182.15" y2="375.30" stroke="#444" stroke-width="0.7"/>
<line x1="129.80" y1="335.18" x2="131.10" y2="335.18" stroke="#444" stroke-width="0.7"/>
<line x1="183.38" y1="374.00" x2="183.38" y2="375.30" stroke="#444" stroke-width="0.7"/>
<line x1="129.80" y1="334.24" x2="131.10" y2="334.24" stroke="#444" stroke-width="0.7"/>
<line x1="184.44" y1="374.00" x2="184.44" y2="375.30" stroke="#444" stroke-width="0.7"/>
<line x1="129.80" y1="333.43" x2="131.10" y2="333.43" stroke="#444" stroke-width="0.7"/>
<line x1="185.38" y1="374.00" x2="185.38" y2="375.30" stroke="#444" stroke-width="0.7"/>
<line x1="129.80" y1="332.71" x2="131.10" y2="332.71" stroke="#444" stroke-width="0.7"/>
<text x="168.05" y="385.20" font-size="6.5" font-family="'Liberation Sans', Arial, sans-serif" text-anchor="middle" stroke="#000" stroke-width="0.4">10<tspan font-size="5.4" dx="0.3" dy="-2.4">2</tspan></text>
<text transform="translate(125.50,346.05) rotate(-90)" font-size="5.9" font-family="'Liberation Sans', Arial, sans-serif" text-anchor="middle" stroke="#000" stroke-width="0.45">10<tspan font-size="5.1" dx="0.6" dy="-2.1">2</tspan></text>
<line x1="186.22" y1="374.00" x2="186.22" y2="376.00" stroke="#222" stroke-width="0.9"/>
<line x1="129.10" y1="332.08" x2="131.10" y2="332.08" stroke="#222" stroke-width="0.9"/>
<line x1="191.76" y1="374.00" x2="191.76" y2="375.30" stroke="#444" stroke-width="0.7"/>
<line x1="129.80" y1="327.87" x2="131.10" y2="327.87" stroke="#444" stroke-width="0.7"/>
<line x1="194.99" y1="374.00" x2="194.99" y2="375.30" stroke="#444" stroke-width="0.7"/>
<line x1="129.80" y1="325.41" x2="131.10" y2="325.41" stroke="#444" stroke-width="0.7"/>
<line x1="197.29" y1="374.00" x2="197.29" y2="375.30" stroke="#444" stroke-width="0.7"/>
<line x1="129.80" y1="323.66" x2="131.10" y2="323.66" stroke="#444" stroke-width="0.7"/>
<line x1="199.07" y1="374.00" x2="199.07" y2="375.30" stroke="#444" stroke-width="0.7"/>
<line x1="129.80" y1="322.31" x2="131.10" y2="322.31" stroke="#444" stroke-width="0.7"/>
<line x1="200.52" y1="374.00" x2="200.52" y2="375.30" stroke="#444" stroke-width="0.7"/>
<line x1="129.80" y1="321.20" x2="131.10" y2="321.20" stroke="#444" stroke-width="0.7"/>
<line x1="201.75" y1="374.00" x2="201.75" y2="375.30" stroke="#444" stroke-width="0.7"/>
<line x1="129.80" y1="320.26" x2="131.10" y2="320.26" stroke="#444" stroke-width="0.7"/>
<line x1="202.82" y1="374.00" x2="202.82" y2="375.30" stroke="#444" stroke-width="0.7"/>
<line x1="129.80" y1="319.45" x2="131.10" y2="319.45" stroke="#444" stroke-width="0.7"/>
<line x1="203.76" y1="374.00" x2="203.76" y2="375.30" stroke="#444" stroke-width="0.7"/>
<line x1="129.80" y1="318.74" x2="131.10" y2="318.74" stroke="#444" stroke-width="0.7"/>
<text x="186.42" y="385.20" font-size="6.5" font-family="'Liberation Sans', Arial, sans-serif" text-anchor="middle" stroke="#000" stroke-width="0.4">10<tspan font-size="5.4" dx="0.3" dy="-2.4">3</tspan></text>
<text transform="translate(125.50,332.08) rotate(-90)" font-size="5.9" font-family="'Liberation Sans', Arial, sans-serif" text-anchor="middle" stroke="#000" stroke-width="0.45">10<tspan font-size="5.1" dx="0.6" dy="-2.1">3</tspan></text>
<line x1="204.60" y1="374.00" x2="204.60" y2="376.00" stroke="#222" stroke-width="0.9"/>
<line x1="129.10" y1="318.10" x2="131.10" y2="318.10" stroke="#222" stroke-width="0.9"/>
<text x="204.80" y="385.20" font-size="6.5" font-family="'Liberation Sans', Arial, sans-serif" text-anchor="middle" stroke="#000" stroke-width="0.4">10<tspan font-size="5.4" dx="0.3" dy="-2.4">4</tspan></text>
<text transform="translate(125.50,318.10) rotate(-90)" font-size="5.9" font-family="'Liberation Sans', Arial, sans-serif" text-anchor="middle" stroke="#000" stroke-width="0.45">10<tspan font-size="5.1" dx="0.6" dy="-2.1">4</tspan></text>
<text transform="translate(117.40,362.25) rotate(-90)" font-size="6.9" font-weight="normal" font-style="normal" font-family="'Liberation Sans', Arial, sans-serif" fill="#000" textLength="29.78" lengthAdjust="spacingAndGlyphs" stroke="#000" stroke-width="0.32">JON/A-PE</text>
<text x="151.54" y="391.30" font-size="6.4" font-weight="normal" font-style="normal" font-family="'Liberation Sans', Arial, sans-serif" fill="#000" textLength="31.24" lengthAdjust="spacingAndGlyphs" stroke="#000" stroke-width="0.32">CD62-FITC</text>
<text x="152.78" y="315.50" font-size="8.2" font-weight="bold" font-style="normal" font-family="'Liberation Sans', Arial, sans-serif" fill="#000" textLength="28.11" lengthAdjust="spacingAndGlyphs" stroke="#000" stroke-width="0.32">control</text>
<text x="185.18" y="327.50" font-size="8.6" font-weight="bold" font-style="normal" font-family="'Liberation Serif', 'Times New Roman', serif" fill="#000" textLength="14.05" lengthAdjust="spacingAndGlyphs" stroke="#000" stroke-width="0.32">WT</text>
<polygon points="247.5,346.0 285.2,346.0 287.3,343.2 290.5,337.9 291.8,330.8 287.3,331.0 276.4,332.6 264.0,335.8 256.0,338.0 247.5,340.3" fill="url(#gA)"/>
<path d="M263 360h1v1h-1zM274 372h1v1h-1zM266 350h1v1h-1zM248 347h1v1h-1zM263 357h1v1h-1zM251 354h1v1h-1zM266 353h1v1h-1zM258 365h1v1h-1zM266 363h1v1h-1zM255 358h1v1h-1zM249 360h1v1h-1zM253 359h1v1h-1zM255 362h1v1h-1zM252 371h1v1h-1zM253 371h1v1h-1zM260 368h1v1h-1zM271 347h1v1h-1zM262 355h1v1h-1zM263 365h1v1h-1zM268 351h1v1h-1zM272 359h1v1h-1zM264 346h1v1h-1zM248 348h1v1h-1zM260 353h1v1h-1zM248 346h1v1h-1zM265 354h1v1h-1zM249 349h1v1h-1zM263 368h1v1h-1zM252 351h1v1h-1zM272 353h1v1h-1zM250 366h1v1h-1zM266 358h1v1h-1zM267 346h1v1h-1zM255 349h1v1h-1zM264 359h1v1h-1zM257 348h1v1h-1zM255 349h1v1h-1zM255 360h1v1h-1zM248 356h1v1h-1zM267 350h1v1h-1zM249 358h1v1h-1zM253 360h1v1h-1zM250 346h1v1h-1zM270 350h1v1h-1zM262 351h1v1h-1zM261 369h1v1h-1zM264 346h1v1h-1zM270 352h1v1h-1zM265 348h1v1h-1zM262 362h1v1h-1zM256 366h1v1h-1zM262 346h1v1h-1zM276 368h1v1h-1zM264 362h1v1h-1zM261 349h1v1h-1zM273 370h1v1h-1zM249 350h1v1h-1zM249 365h1v1h-1zM270 346h1v1h-1zM274 355h1v1h-1zM249 356h1v1h-1zM248 369h1v1h-1zM248 367h1v1h-1zM264 357h1v1h-1zM251 346h1v1h-1zM263 354h1v1h-1zM266 353h1v1h-1zM272 362h1v1h-1zM255 353h1v1h-1zM263 352h1v1h-1zM257 365h1v1h-1zM257 347h1v1h-1zM259 366h1v1h-1zM247 361h1v1h-1zM260 354h1v1h-1zM255 363h1v1h-1zM258 353h1v1h-1zM252 347h1v1h-1zM257 354h1v1h-1zM267 346h1v1h-1zM276 346h1v1h-1zM253 354h1v1h-1zM272 367h1v1h-1zM265 348h1v1h-1zM250 356h1v1h-1zM248 372h1v1h-1zM273 367h1v1h-1zM254 370h1v1h-1zM250 362h1v1h-1zM266 359h1v1h-1zM268 359h1v1h-1zM273 359h1v1h-1zM262 355h1v1h-1zM256 352h1v1h-1zM256 349h1v1h-1zM253 346h1v1h-1zM266 352h1v1h-1zM274 365h1v1h-1zM250 358h1v1h-1zM258 348h1v1h-1zM257 366h1v1h-1zM250 346h1v1h-1zM264 371h1v1h-1zM276 361h1v1h-1zM255 358h1v1h-1zM268 354h1v1h-1zM273 367h1v1h-1zM255 346h1v1h-1zM274 346h1v1h-1zM269 357h1v1h-1zM266 351h1v1h-1zM253 353h1v1h-1zM255 357h1v1h-1zM250 346h1v1h-1zM271 362h1v1h-1zM250 347h1v1h-1zM263 364h1v1h-1zM253 357h1v1h-1zM269 362h1v1h-1zM264 364h1v1h-1zM268 347h1v1h-1zM258 355h1v1h-1zM264 348h1v1h-1zM273 353h1v1h-1zM258 352h1v1h-1zM253 369h1v1h-1zM255 357h1v1h-1zM254 346h1v1h-1zM252 363h1v1h-1zM257 356h1v1h-1zM254 366h1v1h-1zM262 346h1v1h-1zM273 368h1v1h-1zM275 369h1v1h-1zM252 346h1v1h-1zM264 355h1v1h-1zM267 347h1v1h-1zM252 357h1v1h-1zM263 346h1v1h-1zM253 369h1v1h-1zM258 348h1v1h-1zM257 361h1v1h-1zM271 361h1v1h-1zM254 351h1v1h-1zM263 349h1v1h-1zM264 370h1v1h-1zM257 346h1v1h-1zM274 350h1v1h-1zM257 351h1v1h-1zM257 359h1v1h-1zM267 352h1v1h-1zM261 347h1v1h-1zM268 358h1v1h-1zM252 363h1v1h-1zM252 363h1v1h-1zM268 356h1v1h-1zM258 351h1v1h-1zM272 346h1v1h-1zM254 357h1v1h-1zM254 360h1v1h-1zM272 354h1v1h-1zM258 372h1v1h-1zM250 348h1v1h-1zM254 366h1v1h-1zM269 363h1v1h-1zM255 369h1v1h-1zM263 370h1v1h-1zM271 349h1v1h-1zM265 370h1v1h-1zM269 353h1v1h-1zM275 362h1v1h-1zM256 371h1v1h-1zM272 359h1v1h-1zM263 359h1v1h-1zM253 346h1v1h-1zM251 359h1v1h-1zM257 349h1v1h-1zM251 353h1v1h-1zM269 353h1v1h-1zM263 372h1v1h-1zM249 360h1v1h-1zM273 363h1v1h-1zM264 348h1v1h-1zM260 351h1v1h-1zM251 369h1v1h-1zM261 347h1v1h-1zM274 371h1v1h-1zM264 354h1v1h-1zM260 353h1v1h-1zM265 356h1v1h-1zM263 354h1v1h-1zM265 355h1v1h-1zM253 354h1v1h-1zM252 362h1v1h-1zM248 350h1v1h-1zM271 348h1v1h-1zM247 354h1v1h-1zM255 346h1v1h-1zM264 355h1v1h-1zM262 356h1v1h-1zM273 365h1v1h-1zM253 347h1v1h-1zM251 353h1v1h-1zM252 365h1v1h-1zM262 352h1v1h-1zM256 367h1v1h-1zM260 363h1v1h-1zM267 346h1v1h-1zM257 353h1v1h-1zM266 365h1v1h-1zM248 357h1v1h-1zM263 361h1v1h-1zM274 362h1v1h-1zM264 357h1v1h-1zM276 368h1v1h-1zM254 354h1v1h-1zM256 346h1v1h-1zM260 350h1v1h-1zM262 359h1v1h-1zM271 371h1v1h-1zM260 359h1v1h-1zM249 350h1v1h-1zM254 353h1v1h-1zM273 349h1v1h-1zM253 358h1v1h-1zM256 352h1v1h-1zM251 347h1v1h-1zM256 363h1v1h-1zM265 362h1v1h-1zM255 372h1v1h-1zM249 347h1v1h-1zM264 370h1v1h-1zM268 366h1v1h-1zM250 350h1v1h-1zM259 355h1v1h-1zM249 360h1v1h-1zM248 351h1v1h-1zM258 347h1v1h-1zM256 367h1v1h-1zM272 348h1v1h-1zM248 356h1v1h-1zM266 354h1v1h-1zM268 370h1v1h-1zM259 358h1v1h-1zM262 354h1v1h-1zM254 372h1v1h-1zM255 352h1v1h-1zM249 363h1v1h-1zM273 349h1v1h-1zM248 364h1v1h-1zM251 364h1v1h-1zM268 367h1v1h-1zM260 356h1v1h-1zM262 349h1v1h-1zM256 360h1v1h-1z" fill="#505050" fill-opacity="1.0"/>
<path d="M263 333h1v1h-1zM268 333h1v1h-1zM266 333h1v1h-1zM266 333h1v1h-1zM251 337h1v1h-1zM260 334h1v1h-1zM262 334h1v1h-1zM254 335h1v1h-1zM255 338h1v1h-1zM283 330h1v1h-1zM264 332h1v1h-1zM285 331h1v1h-1zM249 337h1v1h-1zM251 338h1v1h-1zM286 331h1v1h-1zM258 336h1v1h-1zM250 338h1v1h-1zM289 329h1v1h-1zM256 336h1v1h-1zM251 336h1v1h-1zM258 336h1v1h-1zM266 333h1v1h-1zM260 335h1v1h-1zM287 329h1v1h-1zM254 335h1v1h-1zM262 335h1v1h-1zM249 338h1v1h-1zM257 335h1v1h-1zM275 330h1v1h-1zM280 330h1v1h-1zM253 338h1v1h-1zM248 337h1v1h-1zM248 338h1v1h-1zM274 330h1v1h-1zM256 334h1v1h-1zM257 335h1v1h-1zM260 334h1v1h-1zM256 336h1v1h-1zM281 330h1v1h-1zM250 336h1v1h-1zM250 338h1v1h-1zM274 330h1v1h-1zM278 330h1v1h-1zM288 328h1v1h-1zM276 330h1v1h-1zM252 337h1v1h-1zM271 332h1v1h-1zM262 333h1v1h-1zM266 332h1v1h-1zM255 337h1v1h-1zM265 332h1v1h-1zM278 330h1v1h-1zM279 330h1v1h-1zM270 333h1v1h-1zM270 332h1v1h-1zM283 329h1v1h-1zM252 338h1v1h-1zM274 333h1v1h-1zM260 335h1v1h-1zM252 336h1v1h-1z" fill="#5a5a5a" fill-opacity="1.0"/>
<path d="M289 345h1v1h-1zM289 341h1v1h-1zM290 342h1v1h-1zM294 331h1v1h-1zM292 334h1v1h-1zM290 342h1v1h-1zM293 341h1v1h-1zM289 344h1v1h-1zM291 342h1v1h-1zM292 341h1v1h-1zM288 346h1v1h-1zM293 338h1v1h-1zM293 334h1v1h-1zM291 334h1v1h-1z" fill="#555" fill-opacity="1.0"/>
<path d="M281 354h1v1h-1zM278 346h1v1h-1zM285 348h1v1h-1zM282 350h1v1h-1zM280 349h1v1h-1zM279 350h1v1h-1zM289 350h1v1h-1zM283 350h1v1h-1zM289 346h1v1h-1zM281 356h1v1h-1zM279 357h1v1h-1zM286 353h1v1h-1zM288 349h1v1h-1zM279 351h1v1h-1z" fill="#777" fill-opacity="1.0"/>
<path d="M307 366h1v1h-1zM309 370h1v1h-1zM310 369h1v1h-1z" fill="#888" fill-opacity="1.0"/>
<rect x="247.3" y="318.7" width="72.7" height="55.3" fill="none" stroke="#2a2a2a" stroke-width="1.25"/>
<line x1="276.50" y1="318.70" x2="276.50" y2="374.00" stroke="#1a1a1a" stroke-width="1.2"/>
<line x1="247.30" y1="345.30" x2="320.00" y2="345.30" stroke="#1a1a1a" stroke-width="1.2"/>
<line x1="247.30" y1="374.00" x2="247.30" y2="376.00" stroke="#222" stroke-width="0.9"/>
<line x1="245.30" y1="374.00" x2="247.30" y2="374.00" stroke="#222" stroke-width="0.9"/>
<line x1="252.77" y1="374.00" x2="252.77" y2="375.30" stroke="#444" stroke-width="0.7"/>
<line x1="246.00" y1="369.84" x2="247.30" y2="369.84" stroke="#444" stroke-width="0.7"/>
<line x1="255.97" y1="374.00" x2="255.97" y2="375.30" stroke="#444" stroke-width="0.7"/>
<line x1="246.00" y1="367.40" x2="247.30" y2="367.40" stroke="#444" stroke-width="0.7"/>
<line x1="258.24" y1="374.00" x2="258.24" y2="375.30" stroke="#444" stroke-width="0.7"/>
<line x1="246.00" y1="365.68" x2="247.30" y2="365.68" stroke="#444" stroke-width="0.7"/>
<line x1="260.00" y1="374.00" x2="260.00" y2="375.30" stroke="#444" stroke-width="0.7"/>
<line x1="246.00" y1="364.34" x2="247.30" y2="364.34" stroke="#444" stroke-width="0.7"/>
<line x1="261.44" y1="374.00" x2="261.44" y2="375.30" stroke="#444" stroke-width="0.7"/>
<line x1="246.00" y1="363.24" x2="247.30" y2="363.24" stroke="#444" stroke-width="0.7"/>
<line x1="262.66" y1="374.00" x2="262.66" y2="375.30" stroke="#444" stroke-width="0.7"/>
<line x1="246.00" y1="362.32" x2="247.30" y2="362.32" stroke="#444" stroke-width="0.7"/>
<line x1="263.71" y1="374.00" x2="263.71" y2="375.30" stroke="#444" stroke-width="0.7"/>
<line x1="246.00" y1="361.51" x2="247.30" y2="361.51" stroke="#444" stroke-width="0.7"/>
<line x1="264.64" y1="374.00" x2="264.64" y2="375.30" stroke="#444" stroke-width="0.7"/>
<line x1="246.00" y1="360.81" x2="247.30" y2="360.81" stroke="#444" stroke-width="0.7"/>
<text x="247.50" y="385.20" font-size="6.5" font-family="'Liberation Sans', Arial, sans-serif" text-anchor="middle" stroke="#000" stroke-width="0.4">10<tspan font-size="5.4" dx="0.3" dy="-2.4">0</tspan></text>
<text transform="translate(241.70,374.00) rotate(-90)" font-size="5.9" font-family="'Liberation Sans', Arial, sans-serif" text-anchor="middle" stroke="#000" stroke-width="0.45">10<tspan font-size="5.1" dx="0.6" dy="-2.1">0</tspan></text>
<line x1="265.48" y1="374.00" x2="265.48" y2="376.00" stroke="#222" stroke-width="0.9"/>
<line x1="245.30" y1="360.18" x2="247.30" y2="360.18" stroke="#222" stroke-width="0.9"/>
<line x1="270.95" y1="374.00" x2="270.95" y2="375.30" stroke="#444" stroke-width="0.7"/>
<line x1="246.00" y1="356.01" x2="247.30" y2="356.01" stroke="#444" stroke-width="0.7"/>
<line x1="274.15" y1="374.00" x2="274.15" y2="375.30" stroke="#444" stroke-width="0.7"/>
<line x1="246.00" y1="353.58" x2="247.30" y2="353.58" stroke="#444" stroke-width="0.7"/>
<line x1="276.42" y1="374.00" x2="276.42" y2="375.30" stroke="#444" stroke-width="0.7"/>
<line x1="246.00" y1="351.85" x2="247.30" y2="351.85" stroke="#444" stroke-width="0.7"/>
<line x1="278.18" y1="374.00" x2="278.18" y2="375.30" stroke="#444" stroke-width="0.7"/>
<line x1="246.00" y1="350.51" x2="247.30" y2="350.51" stroke="#444" stroke-width="0.7"/>
<line x1="279.62" y1="374.00" x2="279.62" y2="375.30" stroke="#444" stroke-width="0.7"/>
<line x1="246.00" y1="349.42" x2="247.30" y2="349.42" stroke="#444" stroke-width="0.7"/>
<line x1="280.83" y1="374.00" x2="280.83" y2="375.30" stroke="#444" stroke-width="0.7"/>
<line x1="246.00" y1="348.49" x2="247.30" y2="348.49" stroke="#444" stroke-width="0.7"/>
<line x1="281.89" y1="374.00" x2="281.89" y2="375.30" stroke="#444" stroke-width="0.7"/>
<line x1="246.00" y1="347.69" x2="247.30" y2="347.69" stroke="#444" stroke-width="0.7"/>
<line x1="282.82" y1="374.00" x2="282.82" y2="375.30" stroke="#444" stroke-width="0.7"/>
<line x1="246.00" y1="346.98" x2="247.30" y2="346.98" stroke="#444" stroke-width="0.7"/>
<text x="265.68" y="385.20" font-size="6.5" font-family="'Liberation Sans', Arial, sans-serif" text-anchor="middle" stroke="#000" stroke-width="0.4">10<tspan font-size="5.4" dx="0.3" dy="-2.4">1</tspan></text>
<text transform="translate(241.70,360.18) rotate(-90)" font-size="5.9" font-family="'Liberation Sans', Arial, sans-serif" text-anchor="middle" stroke="#000" stroke-width="0.45">10<tspan font-size="5.1" dx="0.6" dy="-2.1">1</tspan></text>
<line x1="283.65" y1="374.00" x2="283.65" y2="376.00" stroke="#222" stroke-width="0.9"/>
<line x1="245.30" y1="346.35" x2="247.30" y2="346.35" stroke="#222" stroke-width="0.9"/>
<line x1="289.12" y1="374.00" x2="289.12" y2="375.30" stroke="#444" stroke-width="0.7"/>
<line x1="246.00" y1="342.19" x2="247.30" y2="342.19" stroke="#444" stroke-width="0.7"/>
<line x1="292.32" y1="374.00" x2="292.32" y2="375.30" stroke="#444" stroke-width="0.7"/>
<line x1="246.00" y1="339.75" x2="247.30" y2="339.75" stroke="#444" stroke-width="0.7"/>
<line x1="294.59" y1="374.00" x2="294.59" y2="375.30" stroke="#444" stroke-width="0.7"/>
<line x1="246.00" y1="338.03" x2="247.30" y2="338.03" stroke="#444" stroke-width="0.7"/>
<line x1="296.35" y1="374.00" x2="296.35" y2="375.30" stroke="#444" stroke-width="0.7"/>
<line x1="246.00" y1="336.69" x2="247.30" y2="336.69" stroke="#444" stroke-width="0.7"/>
<line x1="297.79" y1="374.00" x2="297.79" y2="375.30" stroke="#444" stroke-width="0.7"/>
<line x1="246.00" y1="335.59" x2="247.30" y2="335.59" stroke="#444" stroke-width="0.7"/>
<line x1="299.01" y1="374.00" x2="299.01" y2="375.30" stroke="#444" stroke-width="0.7"/>
<line x1="246.00" y1="334.67" x2="247.30" y2="334.67" stroke="#444" stroke-width="0.7"/>
<line x1="300.06" y1="374.00" x2="300.06" y2="375.30" stroke="#444" stroke-width="0.7"/>
<line x1="246.00" y1="333.86" x2="247.30" y2="333.86" stroke="#444" stroke-width="0.7"/>
<line x1="300.99" y1="374.00" x2="300.99" y2="375.30" stroke="#444" stroke-width="0.7"/>
<line x1="246.00" y1="333.16" x2="247.30" y2="333.16" stroke="#444" stroke-width="0.7"/>
<text x="283.85" y="385.20" font-size="6.5" font-family="'Liberation Sans', Arial, sans-serif" text-anchor="middle" stroke="#000" stroke-width="0.4">10<tspan font-size="5.4" dx="0.3" dy="-2.4">2</tspan></text>
<text transform="translate(241.70,346.35) rotate(-90)" font-size="5.9" font-family="'Liberation Sans', Arial, sans-serif" text-anchor="middle" stroke="#000" stroke-width="0.45">10<tspan font-size="5.1" dx="0.6" dy="-2.1">2</tspan></text>
<line x1="301.82" y1="374.00" x2="301.82" y2="376.00" stroke="#222" stroke-width="0.9"/>
<line x1="245.30" y1="332.52" x2="247.30" y2="332.52" stroke="#222" stroke-width="0.9"/>
<line x1="307.30" y1="374.00" x2="307.30" y2="375.30" stroke="#444" stroke-width="0.7"/>
<line x1="246.00" y1="328.36" x2="247.30" y2="328.36" stroke="#444" stroke-width="0.7"/>
<line x1="310.50" y1="374.00" x2="310.50" y2="375.30" stroke="#444" stroke-width="0.7"/>
<line x1="246.00" y1="325.93" x2="247.30" y2="325.93" stroke="#444" stroke-width="0.7"/>
<line x1="312.77" y1="374.00" x2="312.77" y2="375.30" stroke="#444" stroke-width="0.7"/>
<line x1="246.00" y1="324.20" x2="247.30" y2="324.20" stroke="#444" stroke-width="0.7"/>
<line x1="314.53" y1="374.00" x2="314.53" y2="375.30" stroke="#444" stroke-width="0.7"/>
<line x1="246.00" y1="322.86" x2="247.30" y2="322.86" stroke="#444" stroke-width="0.7"/>
<line x1="315.97" y1="374.00" x2="315.97" y2="375.30" stroke="#444" stroke-width="0.7"/>
<line x1="246.00" y1="321.77" x2="247.30" y2="321.77" stroke="#444" stroke-width="0.7"/>
<line x1="317.18" y1="374.00" x2="317.18" y2="375.30" stroke="#444" stroke-width="0.7"/>
<line x1="246.00" y1="320.84" x2="247.30" y2="320.84" stroke="#444" stroke-width="0.7"/>
<line x1="318.24" y1="374.00" x2="318.24" y2="375.30" stroke="#444" stroke-width="0.7"/>
<line x1="246.00" y1="320.04" x2="247.30" y2="320.04" stroke="#444" stroke-width="0.7"/>
<line x1="319.17" y1="374.00" x2="319.17" y2="375.30" stroke="#444" stroke-width="0.7"/>
<line x1="246.00" y1="319.33" x2="247.30" y2="319.33" stroke="#444" stroke-width="0.7"/>
<text x="302.02" y="385.20" font-size="6.5" font-family="'Liberation Sans', Arial, sans-serif" text-anchor="middle" stroke="#000" stroke-width="0.4">10<tspan font-size="5.4" dx="0.3" dy="-2.4">3</tspan></text>
<text transform="translate(241.70,332.52) rotate(-90)" font-size="5.9" font-family="'Liberation Sans', Arial, sans-serif" text-anchor="middle" stroke="#000" stroke-width="0.45">10<tspan font-size="5.1" dx="0.6" dy="-2.1">3</tspan></text>
<line x1="320.00" y1="374.00" x2="320.00" y2="376.00" stroke="#222" stroke-width="0.9"/>
<line x1="245.30" y1="318.70" x2="247.30" y2="318.70" stroke="#222" stroke-width="0.9"/>
<text x="320.20" y="385.20" font-size="6.5" font-family="'Liberation Sans', Arial, sans-serif" text-anchor="middle" stroke="#000" stroke-width="0.4">10<tspan font-size="5.4" dx="0.3" dy="-2.4">4</tspan></text>
<text transform="translate(241.70,318.70) rotate(-90)" font-size="5.9" font-family="'Liberation Sans', Arial, sans-serif" text-anchor="middle" stroke="#000" stroke-width="0.45">10<tspan font-size="5.1" dx="0.6" dy="-2.1">4</tspan></text>
<text transform="translate(233.60,362.55) rotate(-90)" font-size="6.9" font-weight="normal" font-style="normal" font-family="'Liberation Sans', Arial, sans-serif" fill="#000" textLength="29.78" lengthAdjust="spacingAndGlyphs" stroke="#000" stroke-width="0.32">JON/A-PE</text>
<text x="267.34" y="391.30" font-size="6.4" font-weight="normal" font-style="normal" font-family="'Liberation Sans', Arial, sans-serif" fill="#000" textLength="31.24" lengthAdjust="spacingAndGlyphs" stroke="#000" stroke-width="0.32">CD62-FITC</text>
<text x="252.16" y="315.50" font-size="8.2" font-weight="bold" font-style="normal" font-family="'Liberation Sans', Arial, sans-serif" fill="#000" textLength="61.86" lengthAdjust="spacingAndGlyphs" stroke="#000" stroke-width="0.32">CRP (10 µg/mL)</text>
<polygon points="361.6,345.5 399.3,345.5 402.4,342.6 405.1,338.9 406.7,332.6 404.6,331.0 398.2,331.5 390.3,333.1 384.5,334.5 373.9,336.8 361.6,338.3" fill="url(#gA)"/>
<path d="M366 347h1v1h-1zM362 366h1v1h-1zM370 348h1v1h-1zM370 365h1v1h-1zM383 352h1v1h-1zM381 370h1v1h-1zM383 349h1v1h-1zM372 348h1v1h-1zM373 362h1v1h-1zM388 365h1v1h-1zM362 352h1v1h-1zM362 355h1v1h-1zM362 361h1v1h-1zM385 351h1v1h-1zM376 353h1v1h-1zM381 358h1v1h-1zM380 351h1v1h-1zM385 347h1v1h-1zM376 370h1v1h-1zM371 347h1v1h-1zM373 367h1v1h-1zM367 355h1v1h-1zM388 368h1v1h-1zM383 346h1v1h-1zM369 358h1v1h-1zM376 352h1v1h-1zM375 351h1v1h-1zM379 369h1v1h-1zM388 346h1v1h-1zM369 368h1v1h-1zM379 346h1v1h-1zM376 362h1v1h-1zM389 350h1v1h-1zM367 357h1v1h-1zM380 370h1v1h-1zM364 366h1v1h-1zM377 347h1v1h-1zM389 351h1v1h-1zM382 356h1v1h-1zM362 363h1v1h-1zM390 346h1v1h-1zM377 368h1v1h-1zM378 367h1v1h-1zM388 372h1v1h-1zM378 348h1v1h-1zM367 349h1v1h-1zM374 367h1v1h-1zM383 356h1v1h-1zM373 349h1v1h-1zM366 346h1v1h-1zM372 349h1v1h-1zM364 362h1v1h-1zM364 363h1v1h-1zM365 352h1v1h-1zM376 370h1v1h-1zM370 356h1v1h-1zM366 357h1v1h-1zM382 353h1v1h-1zM379 353h1v1h-1zM385 352h1v1h-1zM366 367h1v1h-1zM379 354h1v1h-1zM369 349h1v1h-1zM375 354h1v1h-1zM374 370h1v1h-1zM378 360h1v1h-1zM378 347h1v1h-1zM388 354h1v1h-1zM379 355h1v1h-1zM371 346h1v1h-1zM384 372h1v1h-1zM366 370h1v1h-1zM384 347h1v1h-1zM378 358h1v1h-1zM369 351h1v1h-1zM383 349h1v1h-1zM364 350h1v1h-1zM362 346h1v1h-1zM369 362h1v1h-1zM376 352h1v1h-1zM379 362h1v1h-1zM370 366h1v1h-1zM378 358h1v1h-1zM389 352h1v1h-1zM390 347h1v1h-1zM382 361h1v1h-1zM370 362h1v1h-1zM375 365h1v1h-1zM384 347h1v1h-1zM387 346h1v1h-1zM389 369h1v1h-1zM372 359h1v1h-1zM371 347h1v1h-1zM371 363h1v1h-1zM384 346h1v1h-1zM389 360h1v1h-1zM377 358h1v1h-1zM374 363h1v1h-1zM380 347h1v1h-1zM373 370h1v1h-1zM378 371h1v1h-1zM364 365h1v1h-1zM373 351h1v1h-1zM369 372h1v1h-1zM365 360h1v1h-1zM389 363h1v1h-1zM381 361h1v1h-1zM372 349h1v1h-1zM390 368h1v1h-1zM364 361h1v1h-1zM371 349h1v1h-1zM387 353h1v1h-1zM389 347h1v1h-1zM384 354h1v1h-1zM377 353h1v1h-1zM363 353h1v1h-1zM363 366h1v1h-1zM386 346h1v1h-1zM361 347h1v1h-1zM364 364h1v1h-1zM364 347h1v1h-1zM382 359h1v1h-1zM379 366h1v1h-1zM367 358h1v1h-1zM373 346h1v1h-1zM389 349h1v1h-1zM367 357h1v1h-1zM363 372h1v1h-1zM380 361h1v1h-1zM364 362h1v1h-1zM377 359h1v1h-1zM368 351h1v1h-1zM362 359h1v1h-1zM380 346h1v1h-1zM383 354h1v1h-1zM370 366h1v1h-1zM366 349h1v1h-1zM389 361h1v1h-1zM368 363h1v1h-1zM368 348h1v1h-1zM372 368h1v1h-1zM368 349h1v1h-1zM368 372h1v1h-1zM388 352h1v1h-1zM363 359h1v1h-1zM385 371h1v1h-1zM377 367h1v1h-1zM362 356h1v1h-1zM365 348h1v1h-1zM380 360h1v1h-1zM377 359h1v1h-1zM368 346h1v1h-1zM370 353h1v1h-1zM388 370h1v1h-1zM382 357h1v1h-1zM380 348h1v1h-1zM388 361h1v1h-1zM368 355h1v1h-1zM371 370h1v1h-1zM385 356h1v1h-1zM374 346h1v1h-1zM374 348h1v1h-1zM384 348h1v1h-1zM390 371h1v1h-1zM387 352h1v1h-1zM383 352h1v1h-1zM374 372h1v1h-1zM382 349h1v1h-1zM368 360h1v1h-1zM368 371h1v1h-1zM367 370h1v1h-1zM381 348h1v1h-1zM388 355h1v1h-1zM383 350h1v1h-1zM369 362h1v1h-1zM380 349h1v1h-1zM371 348h1v1h-1zM385 350h1v1h-1zM375 347h1v1h-1zM368 363h1v1h-1zM369 350h1v1h-1zM364 353h1v1h-1zM372 350h1v1h-1zM371 353h1v1h-1zM374 351h1v1h-1zM380 352h1v1h-1zM388 363h1v1h-1zM385 348h1v1h-1zM378 362h1v1h-1zM372 352h1v1h-1zM366 347h1v1h-1zM378 347h1v1h-1zM363 370h1v1h-1zM363 346h1v1h-1zM380 350h1v1h-1zM366 368h1v1h-1zM386 346h1v1h-1zM380 349h1v1h-1zM376 350h1v1h-1zM388 367h1v1h-1zM365 347h1v1h-1zM370 371h1v1h-1zM376 347h1v1h-1zM389 358h1v1h-1zM363 365h1v1h-1zM378 358h1v1h-1zM388 356h1v1h-1zM365 354h1v1h-1zM381 350h1v1h-1zM372 353h1v1h-1zM377 360h1v1h-1zM388 359h1v1h-1zM375 372h1v1h-1zM374 349h1v1h-1zM377 348h1v1h-1zM362 369h1v1h-1zM384 356h1v1h-1zM363 360h1v1h-1zM389 360h1v1h-1zM389 365h1v1h-1zM385 367h1v1h-1zM387 362h1v1h-1zM379 346h1v1h-1zM370 367h1v1h-1zM379 346h1v1h-1zM381 368h1v1h-1zM365 346h1v1h-1zM383 365h1v1h-1zM370 360h1v1h-1zM376 346h1v1h-1zM369 364h1v1h-1zM369 358h1v1h-1zM386 347h1v1h-1zM383 369h1v1h-1zM363 359h1v1h-1zM383 355h1v1h-1zM388 371h1v1h-1zM381 348h1v1h-1zM381 348h1v1h-1zM369 369h1v1h-1zM381 348h1v1h-1zM372 366h1v1h-1zM388 349h1v1h-1zM381 366h1v1h-1zM370 353h1v1h-1z" fill="#555" fill-opacity="1.0"/>
<path d="M363 336h1v1h-1zM381 334h1v1h-1zM366 334h1v1h-1zM380 335h1v1h-1zM374 334h1v1h-1zM385 331h1v1h-1zM403 330h1v1h-1zM384 333h1v1h-1zM362 335h1v1h-1zM375 336h1v1h-1zM379 335h1v1h-1zM378 335h1v1h-1zM378 333h1v1h-1zM386 333h1v1h-1zM379 333h1v1h-1zM362 337h1v1h-1zM400 329h1v1h-1zM368 335h1v1h-1zM373 336h1v1h-1zM376 333h1v1h-1zM385 333h1v1h-1zM406 331h1v1h-1zM406 329h1v1h-1zM392 331h1v1h-1zM361 336h1v1h-1zM374 336h1v1h-1zM369 335h1v1h-1zM371 337h1v1h-1zM371 336h1v1h-1zM397 331h1v1h-1zM372 335h1v1h-1zM380 332h1v1h-1zM397 329h1v1h-1zM365 335h1v1h-1zM366 334h1v1h-1zM401 330h1v1h-1zM370 334h1v1h-1zM374 335h1v1h-1zM386 332h1v1h-1zM381 334h1v1h-1zM395 329h1v1h-1zM374 335h1v1h-1zM368 336h1v1h-1zM376 335h1v1h-1zM362 337h1v1h-1zM403 328h1v1h-1zM367 335h1v1h-1zM364 336h1v1h-1zM403 330h1v1h-1zM370 336h1v1h-1zM366 335h1v1h-1zM363 336h1v1h-1zM375 333h1v1h-1zM401 330h1v1h-1zM362 337h1v1h-1zM379 334h1v1h-1zM381 333h1v1h-1zM376 334h1v1h-1zM377 333h1v1h-1zM368 335h1v1h-1z" fill="#5a5a5a" fill-opacity="1.0"/>
<path d="M404 342h1v1h-1zM406 337h1v1h-1zM402 343h1v1h-1zM408 334h1v1h-1zM401 343h1v1h-1zM401 344h1v1h-1zM404 342h1v1h-1zM402 342h1v1h-1zM401 344h1v1h-1zM408 334h1v1h-1zM402 344h1v1h-1zM408 334h1v1h-1zM402 345h1v1h-1zM406 340h1v1h-1z" fill="#555" fill-opacity="1.0"/>
<path d="M391 349h1v1h-1zM401 356h1v1h-1zM399 349h1v1h-1zM400 348h1v1h-1zM392 346h1v1h-1zM400 355h1v1h-1zM397 348h1v1h-1zM392 355h1v1h-1zM392 351h1v1h-1zM401 356h1v1h-1zM395 346h1v1h-1zM394 355h1v1h-1zM395 356h1v1h-1zM399 353h1v1h-1z" fill="#777" fill-opacity="1.0"/>
<path d="M406 358h1v1h-1zM419 335h1v1h-1zM411 347h1v1h-1z" fill="#888" fill-opacity="1.0"/>
<rect x="361.1" y="318.7" width="73.5" height="55.3" fill="none" stroke="#2a2a2a" stroke-width="1.25"/>
<line x1="390.60" y1="318.70" x2="390.60" y2="374.00" stroke="#1a1a1a" stroke-width="1.2"/>
<line x1="361.10" y1="344.80" x2="434.60" y2="344.80" stroke="#1a1a1a" stroke-width="1.2"/>
<line x1="361.10" y1="374.00" x2="361.10" y2="376.00" stroke="#222" stroke-width="0.9"/>
<line x1="359.10" y1="374.00" x2="361.10" y2="374.00" stroke="#222" stroke-width="0.9"/>
<line x1="366.63" y1="374.00" x2="366.63" y2="375.30" stroke="#444" stroke-width="0.7"/>
<line x1="359.80" y1="369.84" x2="361.10" y2="369.84" stroke="#444" stroke-width="0.7"/>
<line x1="369.87" y1="374.00" x2="369.87" y2="375.30" stroke="#444" stroke-width="0.7"/>
<line x1="359.80" y1="367.40" x2="361.10" y2="367.40" stroke="#444" stroke-width="0.7"/>
<line x1="372.16" y1="374.00" x2="372.16" y2="375.30" stroke="#444" stroke-width="0.7"/>
<line x1="359.80" y1="365.68" x2="361.10" y2="365.68" stroke="#444" stroke-width="0.7"/>
<line x1="373.94" y1="374.00" x2="373.94" y2="375.30" stroke="#444" stroke-width="0.7"/>
<line x1="359.80" y1="364.34" x2="361.10" y2="364.34" stroke="#444" stroke-width="0.7"/>
<line x1="375.40" y1="374.00" x2="375.40" y2="375.30" stroke="#444" stroke-width="0.7"/>
<line x1="359.80" y1="363.24" x2="361.10" y2="363.24" stroke="#444" stroke-width="0.7"/>
<line x1="376.63" y1="374.00" x2="376.63" y2="375.30" stroke="#444" stroke-width="0.7"/>
<line x1="359.80" y1="362.32" x2="361.10" y2="362.32" stroke="#444" stroke-width="0.7"/>
<line x1="377.69" y1="374.00" x2="377.69" y2="375.30" stroke="#444" stroke-width="0.7"/>
<line x1="359.80" y1="361.51" x2="361.10" y2="361.51" stroke="#444" stroke-width="0.7"/>
<line x1="378.63" y1="374.00" x2="378.63" y2="375.30" stroke="#444" stroke-width="0.7"/>
<line x1="359.80" y1="360.81" x2="361.10" y2="360.81" stroke="#444" stroke-width="0.7"/>
<text x="361.30" y="385.20" font-size="6.5" font-family="'Liberation Sans', Arial, sans-serif" text-anchor="middle" stroke="#000" stroke-width="0.4">10<tspan font-size="5.4" dx="0.3" dy="-2.4">0</tspan></text>
<text transform="translate(355.50,374.00) rotate(-90)" font-size="5.9" font-family="'Liberation Sans', Arial, sans-serif" text-anchor="middle" stroke="#000" stroke-width="0.45">10<tspan font-size="5.1" dx="0.6" dy="-2.1">0</tspan></text>
<line x1="379.48" y1="374.00" x2="379.48" y2="376.00" stroke="#222" stroke-width="0.9"/>
<line x1="359.10" y1="360.18" x2="361.10" y2="360.18" stroke="#222" stroke-width="0.9"/>
<line x1="385.01" y1="374.00" x2="385.01" y2="375.30" stroke="#444" stroke-width="0.7"/>
<line x1="359.80" y1="356.01" x2="361.10" y2="356.01" stroke="#444" stroke-width="0.7"/>
<line x1="388.24" y1="374.00" x2="388.24" y2="375.30" stroke="#444" stroke-width="0.7"/>
<line x1="359.80" y1="353.58" x2="361.10" y2="353.58" stroke="#444" stroke-width="0.7"/>
<line x1="390.54" y1="374.00" x2="390.54" y2="375.30" stroke="#444" stroke-width="0.7"/>
<line x1="359.80" y1="351.85" x2="361.10" y2="351.85" stroke="#444" stroke-width="0.7"/>
<line x1="392.32" y1="374.00" x2="392.32" y2="375.30" stroke="#444" stroke-width="0.7"/>
<line x1="359.80" y1="350.51" x2="361.10" y2="350.51" stroke="#444" stroke-width="0.7"/>
<line x1="393.77" y1="374.00" x2="393.77" y2="375.30" stroke="#444" stroke-width="0.7"/>
<line x1="359.80" y1="349.42" x2="361.10" y2="349.42" stroke="#444" stroke-width="0.7"/>
<line x1="395.00" y1="374.00" x2="395.00" y2="375.30" stroke="#444" stroke-width="0.7"/>
<line x1="359.80" y1="348.49" x2="361.10" y2="348.49" stroke="#444" stroke-width="0.7"/>
<line x1="396.07" y1="374.00" x2="396.07" y2="375.30" stroke="#444" stroke-width="0.7"/>
<line x1="359.80" y1="347.69" x2="361.10" y2="347.69" stroke="#444" stroke-width="0.7"/>
<line x1="397.01" y1="374.00" x2="397.01" y2="375.30" stroke="#444" stroke-width="0.7"/>
<line x1="359.80" y1="346.98" x2="361.10" y2="346.98" stroke="#444" stroke-width="0.7"/>
<text x="379.68" y="385.20" font-size="6.5" font-family="'Liberation Sans', Arial, sans-serif" text-anchor="middle" stroke="#000" stroke-width="0.4">10<tspan font-size="5.4" dx="0.3" dy="-2.4">1</tspan></text>
<text transform="translate(355.50,360.18) rotate(-90)" font-size="5.9" font-family="'Liberation Sans', Arial, sans-serif" text-anchor="middle" stroke="#000" stroke-width="0.45">10<tspan font-size="5.1" dx="0.6" dy="-2.1">1</tspan></text>
<line x1="397.85" y1="374.00" x2="397.85" y2="376.00" stroke="#222" stroke-width="0.9"/>
<line x1="359.10" y1="346.35" x2="361.10" y2="346.35" stroke="#222" stroke-width="0.9"/>
<line x1="403.38" y1="374.00" x2="403.38" y2="375.30" stroke="#444" stroke-width="0.7"/>
<line x1="359.80" y1="342.19" x2="361.10" y2="342.19" stroke="#444" stroke-width="0.7"/>
<line x1="406.62" y1="374.00" x2="406.62" y2="375.30" stroke="#444" stroke-width="0.7"/>
<line x1="359.80" y1="339.75" x2="361.10" y2="339.75" stroke="#444" stroke-width="0.7"/>
<line x1="408.91" y1="374.00" x2="408.91" y2="375.30" stroke="#444" stroke-width="0.7"/>
<line x1="359.80" y1="338.03" x2="361.10" y2="338.03" stroke="#444" stroke-width="0.7"/>
<line x1="410.69" y1="374.00" x2="410.69" y2="375.30" stroke="#444" stroke-width="0.7"/>
<line x1="359.80" y1="336.69" x2="361.10" y2="336.69" stroke="#444" stroke-width="0.7"/>
<line x1="412.15" y1="374.00" x2="412.15" y2="375.30" stroke="#444" stroke-width="0.7"/>
<line x1="359.80" y1="335.59" x2="361.10" y2="335.59" stroke="#444" stroke-width="0.7"/>
<line x1="413.38" y1="374.00" x2="413.38" y2="375.30" stroke="#444" stroke-width="0.7"/>
<line x1="359.80" y1="334.67" x2="361.10" y2="334.67" stroke="#444" stroke-width="0.7"/>
<line x1="414.44" y1="374.00" x2="414.44" y2="375.30" stroke="#444" stroke-width="0.7"/>
<line x1="359.80" y1="333.86" x2="361.10" y2="333.86" stroke="#444" stroke-width="0.7"/>
<line x1="415.38" y1="374.00" x2="415.38" y2="375.30" stroke="#444" stroke-width="0.7"/>
<line x1="359.80" y1="333.16" x2="361.10" y2="333.16" stroke="#444" stroke-width="0.7"/>
<text x="398.05" y="385.20" font-size="6.5" font-family="'Liberation Sans', Arial, sans-serif" text-anchor="middle" stroke="#000" stroke-width="0.4">10<tspan font-size="5.4" dx="0.3" dy="-2.4">2</tspan></text>
<text transform="translate(355.50,346.35) rotate(-90)" font-size="5.9" font-family="'Liberation Sans', Arial, sans-serif" text-anchor="middle" stroke="#000" stroke-width="0.45">10<tspan font-size="5.1" dx="0.6" dy="-2.1">2</tspan></text>
<line x1="416.23" y1="374.00" x2="416.23" y2="376.00" stroke="#222" stroke-width="0.9"/>
<line x1="359.10" y1="332.52" x2="361.10" y2="332.52" stroke="#222" stroke-width="0.9"/>
<line x1="421.76" y1="374.00" x2="421.76" y2="375.30" stroke="#444" stroke-width="0.7"/>
<line x1="359.80" y1="328.36" x2="361.10" y2="328.36" stroke="#444" stroke-width="0.7"/>
<line x1="424.99" y1="374.00" x2="424.99" y2="375.30" stroke="#444" stroke-width="0.7"/>
<line x1="359.80" y1="325.93" x2="361.10" y2="325.93" stroke="#444" stroke-width="0.7"/>
<line x1="427.29" y1="374.00" x2="427.29" y2="375.30" stroke="#444" stroke-width="0.7"/>
<line x1="359.80" y1="324.20" x2="361.10" y2="324.20" stroke="#444" stroke-width="0.7"/>
<line x1="429.07" y1="374.00" x2="429.07" y2="375.30" stroke="#444" stroke-width="0.7"/>
<line x1="359.80" y1="322.86" x2="361.10" y2="322.86" stroke="#444" stroke-width="0.7"/>
<line x1="430.52" y1="374.00" x2="430.52" y2="375.30" stroke="#444" stroke-width="0.7"/>
<line x1="359.80" y1="321.77" x2="361.10" y2="321.77" stroke="#444" stroke-width="0.7"/>
<line x1="431.75" y1="374.00" x2="431.75" y2="375.30" stroke="#444" stroke-width="0.7"/>
<line x1="359.80" y1="320.84" x2="361.10" y2="320.84" stroke="#444" stroke-width="0.7"/>
<line x1="432.82" y1="374.00" x2="432.82" y2="375.30" stroke="#444" stroke-width="0.7"/>
<line x1="359.80" y1="320.04" x2="361.10" y2="320.04" stroke="#444" stroke-width="0.7"/>
<line x1="433.76" y1="374.00" x2="433.76" y2="375.30" stroke="#444" stroke-width="0.7"/>
<line x1="359.80" y1="319.33" x2="361.10" y2="319.33" stroke="#444" stroke-width="0.7"/>
<text x="416.43" y="385.20" font-size="6.5" font-family="'Liberation Sans', Arial, sans-serif" text-anchor="middle" stroke="#000" stroke-width="0.4">10<tspan font-size="5.4" dx="0.3" dy="-2.4">3</tspan></text>
<text transform="translate(355.50,332.52) rotate(-90)" font-size="5.9" font-family="'Liberation Sans', Arial, sans-serif" text-anchor="middle" stroke="#000" stroke-width="0.45">10<tspan font-size="5.1" dx="0.6" dy="-2.1">3</tspan></text>
<line x1="434.60" y1="374.00" x2="434.60" y2="376.00" stroke="#222" stroke-width="0.9"/>
<line x1="359.10" y1="318.70" x2="361.10" y2="318.70" stroke="#222" stroke-width="0.9"/>
<text x="434.80" y="385.20" font-size="6.5" font-family="'Liberation Sans', Arial, sans-serif" text-anchor="middle" stroke="#000" stroke-width="0.4">10<tspan font-size="5.4" dx="0.3" dy="-2.4">4</tspan></text>
<text transform="translate(355.50,318.70) rotate(-90)" font-size="5.9" font-family="'Liberation Sans', Arial, sans-serif" text-anchor="middle" stroke="#000" stroke-width="0.45">10<tspan font-size="5.1" dx="0.6" dy="-2.1">4</tspan></text>
<text transform="translate(347.40,362.55) rotate(-90)" font-size="6.9" font-weight="normal" font-style="normal" font-family="'Liberation Sans', Arial, sans-serif" fill="#000" textLength="29.78" lengthAdjust="spacingAndGlyphs" stroke="#000" stroke-width="0.32">JON/A-PE</text>
<text x="381.54" y="391.30" font-size="6.4" font-weight="normal" font-style="normal" font-family="'Liberation Sans', Arial, sans-serif" fill="#000" textLength="31.24" lengthAdjust="spacingAndGlyphs" stroke="#000" stroke-width="0.32">CD62-FITC</text>
<text x="362.90" y="315.50" font-size="8.2" font-weight="bold" font-style="normal" font-family="'Liberation Sans', Arial, sans-serif" fill="#000" textLength="68.71" lengthAdjust="spacingAndGlyphs" stroke="#000" stroke-width="0.32">AYPGKF (100 µM)</text>
<polygon points="131.5,441.0 159.3,441.0 159.3,456.5 150.0,457.0 140.0,456.5 131.5,456.0" fill="url(#gV)"/>
<path d="M159 465h1v1h-1zM149 458h1v1h-1zM140 466h1v1h-1zM143 455h1v1h-1zM155 461h1v1h-1zM141 455h1v1h-1zM157 457h1v1h-1zM143 461h1v1h-1zM157 455h1v1h-1zM135 463h1v1h-1zM153 460h1v1h-1zM143 456h1v1h-1zM137 460h1v1h-1zM147 459h1v1h-1zM133 455h1v1h-1zM137 463h1v1h-1zM155 463h1v1h-1zM146 467h1v1h-1zM140 468h1v1h-1zM135 458h1v1h-1zM135 462h1v1h-1zM137 462h1v1h-1zM144 455h1v1h-1zM132 464h1v1h-1zM137 457h1v1h-1zM143 459h1v1h-1zM156 462h1v1h-1zM155 460h1v1h-1zM157 457h1v1h-1zM137 467h1v1h-1zM134 455h1v1h-1zM155 461h1v1h-1zM150 456h1v1h-1zM138 468h1v1h-1zM143 468h1v1h-1zM157 463h1v1h-1zM154 467h1v1h-1zM157 464h1v1h-1zM145 462h1v1h-1zM136 464h1v1h-1zM146 467h1v1h-1zM134 456h1v1h-1zM134 464h1v1h-1zM134 456h1v1h-1zM138 459h1v1h-1zM136 457h1v1h-1zM138 462h1v1h-1zM150 462h1v1h-1zM150 467h1v1h-1zM132 466h1v1h-1zM155 455h1v1h-1zM154 456h1v1h-1zM157 455h1v1h-1zM137 463h1v1h-1zM151 458h1v1h-1zM146 469h1v1h-1zM151 456h1v1h-1zM156 468h1v1h-1zM133 464h1v1h-1zM154 464h1v1h-1zM155 462h1v1h-1zM149 467h1v1h-1zM142 456h1v1h-1zM146 466h1v1h-1zM135 467h1v1h-1zM152 461h1v1h-1zM146 462h1v1h-1zM147 456h1v1h-1zM151 460h1v1h-1zM134 461h1v1h-1zM132 457h1v1h-1zM134 455h1v1h-1zM133 468h1v1h-1zM153 465h1v1h-1zM135 458h1v1h-1zM141 460h1v1h-1zM149 461h1v1h-1zM138 468h1v1h-1zM156 461h1v1h-1zM156 464h1v1h-1zM142 465h1v1h-1zM147 455h1v1h-1zM153 461h1v1h-1zM158 468h1v1h-1zM150 466h1v1h-1zM144 468h1v1h-1zM132 455h1v1h-1zM149 465h1v1h-1zM149 457h1v1h-1zM150 467h1v1h-1zM141 465h1v1h-1zM155 458h1v1h-1zM147 461h1v1h-1zM142 459h1v1h-1zM138 468h1v1h-1zM132 461h1v1h-1zM151 455h1v1h-1zM140 460h1v1h-1zM155 455h1v1h-1zM140 455h1v1h-1zM140 460h1v1h-1zM153 459h1v1h-1zM142 455h1v1h-1zM158 457h1v1h-1zM147 457h1v1h-1zM157 457h1v1h-1zM134 459h1v1h-1zM132 455h1v1h-1zM131 455h1v1h-1zM155 456h1v1h-1zM144 463h1v1h-1zM151 468h1v1h-1zM146 464h1v1h-1zM158 455h1v1h-1zM154 466h1v1h-1zM144 465h1v1h-1zM136 466h1v1h-1zM142 464h1v1h-1zM142 456h1v1h-1zM141 460h1v1h-1zM151 459h1v1h-1zM154 455h1v1h-1zM154 460h1v1h-1zM136 457h1v1h-1zM136 468h1v1h-1zM150 463h1v1h-1zM151 465h1v1h-1zM153 455h1v1h-1zM156 463h1v1h-1zM140 465h1v1h-1zM133 459h1v1h-1zM141 456h1v1h-1zM140 460h1v1h-1zM134 461h1v1h-1zM150 459h1v1h-1zM145 457h1v1h-1zM148 463h1v1h-1zM155 467h1v1h-1zM147 457h1v1h-1zM156 467h1v1h-1zM154 455h1v1h-1zM146 463h1v1h-1zM148 457h1v1h-1zM144 460h1v1h-1zM142 458h1v1h-1zM151 455h1v1h-1zM148 456h1v1h-1zM149 458h1v1h-1zM146 468h1v1h-1zM134 460h1v1h-1zM152 467h1v1h-1zM145 459h1v1h-1zM156 459h1v1h-1zM134 456h1v1h-1zM138 456h1v1h-1zM150 455h1v1h-1zM137 455h1v1h-1zM154 463h1v1h-1zM150 458h1v1h-1zM157 467h1v1h-1zM141 456h1v1h-1zM150 468h1v1h-1zM148 456h1v1h-1zM150 457h1v1h-1zM157 457h1v1h-1zM141 456h1v1h-1zM137 458h1v1h-1zM153 465h1v1h-1zM135 455h1v1h-1zM146 456h1v1h-1zM157 455h1v1h-1zM155 465h1v1h-1zM150 455h1v1h-1zM131 460h1v1h-1zM158 466h1v1h-1zM144 457h1v1h-1zM139 455h1v1h-1zM133 457h1v1h-1zM135 468h1v1h-1zM132 455h1v1h-1zM147 466h1v1h-1zM142 455h1v1h-1zM139 455h1v1h-1zM154 465h1v1h-1zM133 462h1v1h-1zM143 457h1v1h-1zM153 463h1v1h-1zM154 455h1v1h-1zM151 467h1v1h-1zM146 461h1v1h-1zM135 468h1v1h-1zM142 461h1v1h-1zM151 461h1v1h-1zM153 466h1v1h-1zM148 461h1v1h-1zM156 455h1v1h-1zM147 462h1v1h-1zM155 457h1v1h-1zM156 462h1v1h-1zM135 462h1v1h-1zM158 466h1v1h-1zM139 458h1v1h-1zM143 455h1v1h-1zM143 455h1v1h-1zM155 455h1v1h-1zM131 456h1v1h-1zM145 457h1v1h-1zM144 457h1v1h-1zM134 462h1v1h-1zM143 464h1v1h-1zM155 464h1v1h-1zM132 464h1v1h-1zM138 466h1v1h-1zM148 464h1v1h-1zM146 459h1v1h-1zM152 458h1v1h-1zM141 455h1v1h-1zM134 455h1v1h-1zM141 466h1v1h-1zM154 455h1v1h-1zM143 466h1v1h-1zM142 458h1v1h-1zM153 455h1v1h-1zM147 466h1v1h-1zM135 463h1v1h-1zM156 460h1v1h-1zM132 468h1v1h-1zM152 460h1v1h-1zM140 456h1v1h-1zM152 458h1v1h-1zM136 462h1v1h-1zM149 467h1v1h-1zM155 465h1v1h-1zM133 468h1v1h-1zM158 460h1v1h-1zM134 459h1v1h-1zM131 460h1v1h-1zM154 468h1v1h-1zM145 458h1v1h-1zM132 455h1v1h-1zM149 458h1v1h-1zM145 462h1v1h-1zM159 466h1v1h-1zM158 468h1v1h-1zM155 463h1v1h-1zM146 465h1v1h-1zM154 465h1v1h-1zM151 465h1v1h-1zM139 461h1v1h-1zM152 468h1v1h-1zM139 467h1v1h-1zM143 455h1v1h-1zM133 455h1v1h-1zM145 463h1v1h-1zM154 455h1v1h-1zM153 467h1v1h-1zM135 455h1v1h-1zM146 460h1v1h-1zM140 458h1v1h-1zM137 457h1v1h-1zM141 456h1v1h-1zM150 455h1v1h-1zM157 458h1v1h-1zM134 455h1v1h-1zM139 462h1v1h-1zM152 457h1v1h-1zM145 464h1v1h-1zM142 468h1v1h-1zM153 467h1v1h-1zM132 464h1v1h-1zM157 465h1v1h-1zM139 455h1v1h-1zM155 469h1v1h-1zM154 461h1v1h-1zM154 460h1v1h-1zM148 463h1v1h-1zM149 456h1v1h-1zM132 459h1v1h-1zM143 455h1v1h-1zM148 468h1v1h-1z" fill="#4a4a4a" fill-opacity="1.0"/>
<path d="M138 440h1v1h-1zM138 439h1v1h-1zM137 438h1v1h-1zM149 438h1v1h-1zM158 437h1v1h-1zM140 437h1v1h-1zM142 437h1v1h-1zM150 439h1v1h-1zM140 440h1v1h-1zM135 440h1v1h-1zM149 438h1v1h-1zM141 439h1v1h-1zM131 437h1v1h-1zM140 437h1v1h-1zM155 436h1v1h-1zM132 439h1v1h-1zM156 439h1v1h-1zM148 437h1v1h-1zM154 440h1v1h-1zM147 437h1v1h-1zM151 439h1v1h-1zM156 439h1v1h-1zM136 436h1v1h-1zM134 438h1v1h-1zM147 439h1v1h-1zM144 440h1v1h-1zM145 440h1v1h-1zM141 439h1v1h-1zM158 436h1v1h-1zM148 436h1v1h-1zM148 440h1v1h-1zM132 437h1v1h-1zM139 438h1v1h-1zM139 440h1v1h-1zM159 436h1v1h-1zM135 440h1v1h-1zM145 439h1v1h-1zM151 438h1v1h-1zM148 438h1v1h-1zM152 439h1v1h-1z" fill="#8a8a8a" fill-opacity="1.0"/>
<path d="M163 445h1v1h-1zM166 447h1v1h-1zM160 444h1v1h-1zM165 447h1v1h-1zM163 448h1v1h-1zM166 449h1v1h-1zM162 443h1v1h-1zM165 455h1v1h-1zM164 450h1v1h-1zM165 449h1v1h-1zM165 453h1v1h-1zM164 442h1v1h-1z" fill="#777" fill-opacity="1.0"/>
<path d="M183 466h1v1h-1zM180 448h1v1h-1z" fill="#888" fill-opacity="1.0"/>
<rect x="131.0" y="414.5" width="73.3" height="55.8" fill="none" stroke="#2a2a2a" stroke-width="1.25"/>
<line x1="159.30" y1="414.50" x2="159.30" y2="470.30" stroke="#1a1a1a" stroke-width="1.2"/>
<line x1="131.00" y1="441.40" x2="204.30" y2="441.40" stroke="#1a1a1a" stroke-width="1.2"/>
<line x1="131.00" y1="470.30" x2="131.00" y2="472.30" stroke="#222" stroke-width="0.9"/>
<line x1="129.00" y1="470.30" x2="131.00" y2="470.30" stroke="#222" stroke-width="0.9"/>
<line x1="136.52" y1="470.30" x2="136.52" y2="471.60" stroke="#444" stroke-width="0.7"/>
<line x1="129.70" y1="466.10" x2="131.00" y2="466.10" stroke="#444" stroke-width="0.7"/>
<line x1="139.74" y1="470.30" x2="139.74" y2="471.60" stroke="#444" stroke-width="0.7"/>
<line x1="129.70" y1="463.64" x2="131.00" y2="463.64" stroke="#444" stroke-width="0.7"/>
<line x1="142.03" y1="470.30" x2="142.03" y2="471.60" stroke="#444" stroke-width="0.7"/>
<line x1="129.70" y1="461.90" x2="131.00" y2="461.90" stroke="#444" stroke-width="0.7"/>
<line x1="143.81" y1="470.30" x2="143.81" y2="471.60" stroke="#444" stroke-width="0.7"/>
<line x1="129.70" y1="460.55" x2="131.00" y2="460.55" stroke="#444" stroke-width="0.7"/>
<line x1="145.26" y1="470.30" x2="145.26" y2="471.60" stroke="#444" stroke-width="0.7"/>
<line x1="129.70" y1="459.44" x2="131.00" y2="459.44" stroke="#444" stroke-width="0.7"/>
<line x1="146.49" y1="470.30" x2="146.49" y2="471.60" stroke="#444" stroke-width="0.7"/>
<line x1="129.70" y1="458.51" x2="131.00" y2="458.51" stroke="#444" stroke-width="0.7"/>
<line x1="147.55" y1="470.30" x2="147.55" y2="471.60" stroke="#444" stroke-width="0.7"/>
<line x1="129.70" y1="457.70" x2="131.00" y2="457.70" stroke="#444" stroke-width="0.7"/>
<line x1="148.49" y1="470.30" x2="148.49" y2="471.60" stroke="#444" stroke-width="0.7"/>
<line x1="129.70" y1="456.99" x2="131.00" y2="456.99" stroke="#444" stroke-width="0.7"/>
<text x="131.20" y="481.00" font-size="6.5" font-family="'Liberation Sans', Arial, sans-serif" text-anchor="middle" stroke="#000" stroke-width="0.4">10<tspan font-size="5.4" dx="0.3" dy="-2.4">0</tspan></text>
<text transform="translate(125.40,470.30) rotate(-90)" font-size="5.9" font-family="'Liberation Sans', Arial, sans-serif" text-anchor="middle" stroke="#000" stroke-width="0.45">10<tspan font-size="5.1" dx="0.6" dy="-2.1">0</tspan></text>
<line x1="149.32" y1="470.30" x2="149.32" y2="472.30" stroke="#222" stroke-width="0.9"/>
<line x1="129.00" y1="456.35" x2="131.00" y2="456.35" stroke="#222" stroke-width="0.9"/>
<line x1="154.84" y1="470.30" x2="154.84" y2="471.60" stroke="#444" stroke-width="0.7"/>
<line x1="129.70" y1="452.15" x2="131.00" y2="452.15" stroke="#444" stroke-width="0.7"/>
<line x1="158.07" y1="470.30" x2="158.07" y2="471.60" stroke="#444" stroke-width="0.7"/>
<line x1="129.70" y1="449.69" x2="131.00" y2="449.69" stroke="#444" stroke-width="0.7"/>
<line x1="160.36" y1="470.30" x2="160.36" y2="471.60" stroke="#444" stroke-width="0.7"/>
<line x1="129.70" y1="447.95" x2="131.00" y2="447.95" stroke="#444" stroke-width="0.7"/>
<line x1="162.13" y1="470.30" x2="162.13" y2="471.60" stroke="#444" stroke-width="0.7"/>
<line x1="129.70" y1="446.60" x2="131.00" y2="446.60" stroke="#444" stroke-width="0.7"/>
<line x1="163.58" y1="470.30" x2="163.58" y2="471.60" stroke="#444" stroke-width="0.7"/>
<line x1="129.70" y1="445.49" x2="131.00" y2="445.49" stroke="#444" stroke-width="0.7"/>
<line x1="164.81" y1="470.30" x2="164.81" y2="471.60" stroke="#444" stroke-width="0.7"/>
<line x1="129.70" y1="444.56" x2="131.00" y2="444.56" stroke="#444" stroke-width="0.7"/>
<line x1="165.87" y1="470.30" x2="165.87" y2="471.60" stroke="#444" stroke-width="0.7"/>
<line x1="129.70" y1="443.75" x2="131.00" y2="443.75" stroke="#444" stroke-width="0.7"/>
<line x1="166.81" y1="470.30" x2="166.81" y2="471.60" stroke="#444" stroke-width="0.7"/>
<line x1="129.70" y1="443.04" x2="131.00" y2="443.04" stroke="#444" stroke-width="0.7"/>
<text x="149.52" y="481.00" font-size="6.5" font-family="'Liberation Sans', Arial, sans-serif" text-anchor="middle" stroke="#000" stroke-width="0.4">10<tspan font-size="5.4" dx="0.3" dy="-2.4">1</tspan></text>
<text transform="translate(125.40,456.35) rotate(-90)" font-size="5.9" font-family="'Liberation Sans', Arial, sans-serif" text-anchor="middle" stroke="#000" stroke-width="0.45">10<tspan font-size="5.1" dx="0.6" dy="-2.1">1</tspan></text>
<line x1="167.65" y1="470.30" x2="167.65" y2="472.30" stroke="#222" stroke-width="0.9"/>
<line x1="129.00" y1="442.40" x2="131.00" y2="442.40" stroke="#222" stroke-width="0.9"/>
<line x1="173.17" y1="470.30" x2="173.17" y2="471.60" stroke="#444" stroke-width="0.7"/>
<line x1="129.70" y1="438.20" x2="131.00" y2="438.20" stroke="#444" stroke-width="0.7"/>
<line x1="176.39" y1="470.30" x2="176.39" y2="471.60" stroke="#444" stroke-width="0.7"/>
<line x1="129.70" y1="435.74" x2="131.00" y2="435.74" stroke="#444" stroke-width="0.7"/>
<line x1="178.68" y1="470.30" x2="178.68" y2="471.60" stroke="#444" stroke-width="0.7"/>
<line x1="129.70" y1="434.00" x2="131.00" y2="434.00" stroke="#444" stroke-width="0.7"/>
<line x1="180.46" y1="470.30" x2="180.46" y2="471.60" stroke="#444" stroke-width="0.7"/>
<line x1="129.70" y1="432.65" x2="131.00" y2="432.65" stroke="#444" stroke-width="0.7"/>
<line x1="181.91" y1="470.30" x2="181.91" y2="471.60" stroke="#444" stroke-width="0.7"/>
<line x1="129.70" y1="431.54" x2="131.00" y2="431.54" stroke="#444" stroke-width="0.7"/>
<line x1="183.14" y1="470.30" x2="183.14" y2="471.60" stroke="#444" stroke-width="0.7"/>
<line x1="129.70" y1="430.61" x2="131.00" y2="430.61" stroke="#444" stroke-width="0.7"/>
<line x1="184.20" y1="470.30" x2="184.20" y2="471.60" stroke="#444" stroke-width="0.7"/>
<line x1="129.70" y1="429.80" x2="131.00" y2="429.80" stroke="#444" stroke-width="0.7"/>
<line x1="185.14" y1="470.30" x2="185.14" y2="471.60" stroke="#444" stroke-width="0.7"/>
<line x1="129.70" y1="429.09" x2="131.00" y2="429.09" stroke="#444" stroke-width="0.7"/>
<text x="167.85" y="481.00" font-size="6.5" font-family="'Liberation Sans', Arial, sans-serif" text-anchor="middle" stroke="#000" stroke-width="0.4">10<tspan font-size="5.4" dx="0.3" dy="-2.4">2</tspan></text>
<text transform="translate(125.40,442.40) rotate(-90)" font-size="5.9" font-family="'Liberation Sans', Arial, sans-serif" text-anchor="middle" stroke="#000" stroke-width="0.45">10<tspan font-size="5.1" dx="0.6" dy="-2.1">2</tspan></text>
<line x1="185.98" y1="470.30" x2="185.98" y2="472.30" stroke="#222" stroke-width="0.9"/>
<line x1="129.00" y1="428.45" x2="131.00" y2="428.45" stroke="#222" stroke-width="0.9"/>
<line x1="191.49" y1="470.30" x2="191.49" y2="471.60" stroke="#444" stroke-width="0.7"/>
<line x1="129.70" y1="424.25" x2="131.00" y2="424.25" stroke="#444" stroke-width="0.7"/>
<line x1="194.72" y1="470.30" x2="194.72" y2="471.60" stroke="#444" stroke-width="0.7"/>
<line x1="129.70" y1="421.79" x2="131.00" y2="421.79" stroke="#444" stroke-width="0.7"/>
<line x1="197.01" y1="470.30" x2="197.01" y2="471.60" stroke="#444" stroke-width="0.7"/>
<line x1="129.70" y1="420.05" x2="131.00" y2="420.05" stroke="#444" stroke-width="0.7"/>
<line x1="198.78" y1="470.30" x2="198.78" y2="471.60" stroke="#444" stroke-width="0.7"/>
<line x1="129.70" y1="418.70" x2="131.00" y2="418.70" stroke="#444" stroke-width="0.7"/>
<line x1="200.23" y1="470.30" x2="200.23" y2="471.60" stroke="#444" stroke-width="0.7"/>
<line x1="129.70" y1="417.59" x2="131.00" y2="417.59" stroke="#444" stroke-width="0.7"/>
<line x1="201.46" y1="470.30" x2="201.46" y2="471.60" stroke="#444" stroke-width="0.7"/>
<line x1="129.70" y1="416.66" x2="131.00" y2="416.66" stroke="#444" stroke-width="0.7"/>
<line x1="202.52" y1="470.30" x2="202.52" y2="471.60" stroke="#444" stroke-width="0.7"/>
<line x1="129.70" y1="415.85" x2="131.00" y2="415.85" stroke="#444" stroke-width="0.7"/>
<line x1="203.46" y1="470.30" x2="203.46" y2="471.60" stroke="#444" stroke-width="0.7"/>
<line x1="129.70" y1="415.14" x2="131.00" y2="415.14" stroke="#444" stroke-width="0.7"/>
<text x="186.18" y="481.00" font-size="6.5" font-family="'Liberation Sans', Arial, sans-serif" text-anchor="middle" stroke="#000" stroke-width="0.4">10<tspan font-size="5.4" dx="0.3" dy="-2.4">3</tspan></text>
<text transform="translate(125.40,428.45) rotate(-90)" font-size="5.9" font-family="'Liberation Sans', Arial, sans-serif" text-anchor="middle" stroke="#000" stroke-width="0.45">10<tspan font-size="5.1" dx="0.6" dy="-2.1">3</tspan></text>
<line x1="204.30" y1="470.30" x2="204.30" y2="472.30" stroke="#222" stroke-width="0.9"/>
<line x1="129.00" y1="414.50" x2="131.00" y2="414.50" stroke="#222" stroke-width="0.9"/>
<text x="204.50" y="481.00" font-size="6.5" font-family="'Liberation Sans', Arial, sans-serif" text-anchor="middle" stroke="#000" stroke-width="0.4">10<tspan font-size="5.4" dx="0.3" dy="-2.4">4</tspan></text>
<text transform="translate(125.40,414.50) rotate(-90)" font-size="5.9" font-family="'Liberation Sans', Arial, sans-serif" text-anchor="middle" stroke="#000" stroke-width="0.45">10<tspan font-size="5.1" dx="0.6" dy="-2.1">4</tspan></text>
<text transform="translate(117.30,458.60) rotate(-90)" font-size="6.9" font-weight="normal" font-style="normal" font-family="'Liberation Sans', Arial, sans-serif" fill="#000" textLength="29.78" lengthAdjust="spacingAndGlyphs" stroke="#000" stroke-width="0.32">JON/A-PE</text>
<text x="151.34" y="487.30" font-size="6.4" font-weight="normal" font-style="normal" font-family="'Liberation Sans', Arial, sans-serif" fill="#000" textLength="31.24" lengthAdjust="spacingAndGlyphs" stroke="#000" stroke-width="0.32">CD62-FITC</text>
<text x="186.96" y="424.80" font-size="8.6" font-weight="bold" font-style="normal" font-family="'Liberation Serif', 'Times New Roman', serif" fill="#000" textLength="13.16" lengthAdjust="spacingAndGlyphs" stroke="#000" stroke-width="0.32">KO</text>
<polygon points="247.0,441.4 274.4,441.4 274.4,455.0 265.0,453.0 255.0,454.0 247.0,455.5" fill="url(#gV)"/>
<polygon points="247.0,437.3 255.7,435.2 264.2,433.6 270.5,431.5 274.2,430.4 280.0,429.4 286.4,428.9 288.3,429.8 287.4,432.7 285.3,435.9 282.2,439.0 279.0,441.4 247.0,441.4" fill="url(#gB)"/>
<path d="M254 462h1v1h-1zM258 460h1v1h-1zM253 452h1v1h-1zM270 463h1v1h-1zM257 466h1v1h-1zM248 452h1v1h-1zM264 469h1v1h-1zM274 464h1v1h-1zM262 460h1v1h-1zM254 462h1v1h-1zM271 452h1v1h-1zM264 453h1v1h-1zM263 467h1v1h-1zM259 466h1v1h-1zM268 453h1v1h-1zM265 459h1v1h-1zM261 455h1v1h-1zM256 453h1v1h-1zM268 464h1v1h-1zM271 461h1v1h-1zM249 452h1v1h-1zM247 461h1v1h-1zM249 452h1v1h-1zM270 452h1v1h-1zM263 456h1v1h-1zM257 452h1v1h-1zM273 458h1v1h-1zM272 462h1v1h-1zM258 454h1v1h-1zM257 462h1v1h-1zM261 452h1v1h-1zM263 452h1v1h-1zM270 458h1v1h-1zM271 452h1v1h-1zM254 463h1v1h-1zM270 466h1v1h-1zM249 452h1v1h-1zM252 464h1v1h-1zM258 459h1v1h-1zM249 469h1v1h-1zM256 464h1v1h-1zM247 467h1v1h-1zM269 466h1v1h-1zM265 466h1v1h-1zM254 463h1v1h-1zM261 467h1v1h-1zM257 452h1v1h-1zM269 464h1v1h-1zM255 461h1v1h-1zM253 455h1v1h-1zM268 457h1v1h-1zM267 452h1v1h-1zM266 455h1v1h-1zM248 462h1v1h-1zM248 459h1v1h-1zM272 467h1v1h-1zM273 454h1v1h-1zM252 453h1v1h-1zM260 463h1v1h-1zM259 468h1v1h-1zM254 455h1v1h-1zM249 456h1v1h-1zM253 452h1v1h-1zM273 454h1v1h-1zM259 467h1v1h-1zM252 469h1v1h-1zM249 458h1v1h-1zM264 466h1v1h-1zM270 453h1v1h-1zM253 461h1v1h-1zM267 467h1v1h-1zM247 455h1v1h-1zM250 461h1v1h-1zM264 463h1v1h-1zM249 452h1v1h-1zM259 454h1v1h-1zM260 460h1v1h-1zM247 454h1v1h-1zM269 453h1v1h-1zM267 453h1v1h-1zM268 464h1v1h-1zM264 457h1v1h-1zM254 459h1v1h-1zM266 461h1v1h-1zM262 455h1v1h-1zM264 461h1v1h-1zM267 457h1v1h-1zM254 452h1v1h-1zM272 458h1v1h-1zM259 458h1v1h-1zM255 462h1v1h-1zM261 468h1v1h-1zM273 452h1v1h-1zM266 460h1v1h-1zM249 462h1v1h-1zM254 457h1v1h-1zM265 457h1v1h-1zM273 462h1v1h-1zM261 459h1v1h-1zM261 456h1v1h-1zM247 461h1v1h-1zM251 460h1v1h-1zM269 452h1v1h-1zM253 455h1v1h-1zM261 467h1v1h-1zM265 453h1v1h-1zM263 458h1v1h-1zM267 461h1v1h-1zM264 452h1v1h-1zM255 453h1v1h-1zM263 455h1v1h-1zM266 460h1v1h-1zM248 452h1v1h-1zM273 463h1v1h-1zM263 462h1v1h-1zM273 464h1v1h-1zM270 454h1v1h-1zM247 459h1v1h-1zM249 466h1v1h-1zM270 457h1v1h-1zM253 459h1v1h-1zM271 456h1v1h-1zM273 463h1v1h-1zM268 460h1v1h-1zM264 463h1v1h-1zM259 468h1v1h-1zM271 464h1v1h-1zM264 459h1v1h-1zM249 454h1v1h-1zM266 458h1v1h-1zM256 468h1v1h-1zM257 452h1v1h-1zM270 461h1v1h-1zM267 452h1v1h-1zM257 452h1v1h-1zM269 456h1v1h-1zM262 452h1v1h-1zM256 461h1v1h-1zM249 458h1v1h-1zM265 456h1v1h-1zM253 465h1v1h-1zM260 455h1v1h-1zM253 454h1v1h-1zM264 454h1v1h-1zM248 452h1v1h-1zM254 462h1v1h-1zM264 461h1v1h-1zM270 456h1v1h-1zM266 465h1v1h-1zM254 455h1v1h-1zM257 453h1v1h-1zM260 452h1v1h-1zM272 453h1v1h-1zM251 457h1v1h-1zM268 455h1v1h-1zM250 457h1v1h-1zM269 452h1v1h-1zM250 452h1v1h-1zM257 461h1v1h-1zM257 456h1v1h-1zM265 464h1v1h-1zM255 465h1v1h-1zM269 455h1v1h-1zM274 457h1v1h-1zM266 463h1v1h-1zM247 452h1v1h-1zM249 464h1v1h-1zM269 455h1v1h-1zM258 454h1v1h-1zM261 457h1v1h-1zM270 461h1v1h-1zM266 465h1v1h-1zM261 465h1v1h-1zM255 452h1v1h-1zM249 453h1v1h-1zM250 455h1v1h-1zM248 452h1v1h-1zM257 457h1v1h-1zM272 457h1v1h-1zM250 458h1v1h-1zM261 455h1v1h-1zM263 454h1v1h-1zM272 460h1v1h-1zM274 452h1v1h-1zM264 452h1v1h-1zM262 463h1v1h-1zM266 453h1v1h-1zM258 453h1v1h-1zM268 454h1v1h-1zM269 459h1v1h-1zM252 454h1v1h-1zM261 461h1v1h-1zM255 461h1v1h-1zM250 456h1v1h-1zM258 467h1v1h-1zM263 463h1v1h-1zM261 452h1v1h-1zM257 453h1v1h-1zM262 452h1v1h-1zM260 462h1v1h-1zM247 453h1v1h-1zM265 457h1v1h-1zM268 452h1v1h-1zM259 466h1v1h-1zM264 463h1v1h-1zM253 461h1v1h-1zM266 462h1v1h-1zM259 455h1v1h-1zM264 453h1v1h-1zM265 452h1v1h-1zM258 456h1v1h-1zM252 467h1v1h-1zM272 452h1v1h-1zM269 453h1v1h-1zM257 458h1v1h-1zM257 452h1v1h-1zM270 454h1v1h-1zM267 463h1v1h-1zM254 453h1v1h-1zM269 454h1v1h-1zM256 454h1v1h-1zM270 453h1v1h-1zM250 464h1v1h-1zM272 468h1v1h-1zM257 460h1v1h-1zM272 454h1v1h-1zM253 454h1v1h-1zM257 462h1v1h-1zM253 462h1v1h-1zM263 465h1v1h-1zM253 452h1v1h-1zM265 453h1v1h-1zM265 455h1v1h-1zM268 456h1v1h-1zM259 465h1v1h-1zM258 452h1v1h-1zM253 454h1v1h-1zM260 452h1v1h-1zM261 464h1v1h-1zM254 462h1v1h-1zM262 464h1v1h-1zM251 455h1v1h-1zM258 458h1v1h-1zM255 466h1v1h-1zM261 452h1v1h-1zM268 464h1v1h-1zM247 463h1v1h-1zM259 457h1v1h-1zM249 464h1v1h-1zM256 463h1v1h-1zM267 453h1v1h-1zM264 468h1v1h-1zM266 468h1v1h-1zM269 454h1v1h-1zM256 468h1v1h-1zM257 459h1v1h-1zM252 458h1v1h-1zM255 464h1v1h-1zM263 467h1v1h-1zM265 454h1v1h-1zM266 452h1v1h-1zM261 465h1v1h-1zM248 457h1v1h-1zM264 459h1v1h-1zM270 457h1v1h-1zM270 466h1v1h-1zM247 459h1v1h-1zM257 462h1v1h-1zM260 463h1v1h-1zM264 452h1v1h-1z" fill="#4a4a4a" fill-opacity="1.0"/>
<path d="M256 434h1v1h-1zM265 430h1v1h-1zM247 434h1v1h-1zM282 428h1v1h-1zM264 430h1v1h-1zM249 436h1v1h-1zM250 434h1v1h-1zM258 434h1v1h-1zM262 432h1v1h-1zM258 432h1v1h-1zM248 434h1v1h-1zM251 434h1v1h-1zM282 429h1v1h-1zM267 429h1v1h-1zM250 435h1v1h-1zM268 432h1v1h-1zM252 434h1v1h-1zM269 430h1v1h-1zM276 427h1v1h-1zM264 430h1v1h-1zM285 426h1v1h-1zM249 434h1v1h-1zM248 435h1v1h-1zM263 432h1v1h-1zM261 432h1v1h-1zM256 433h1v1h-1zM259 432h1v1h-1zM285 426h1v1h-1zM265 432h1v1h-1zM247 436h1v1h-1zM254 432h1v1h-1zM247 436h1v1h-1zM255 433h1v1h-1zM267 430h1v1h-1zM248 435h1v1h-1zM270 429h1v1h-1zM264 432h1v1h-1zM276 429h1v1h-1zM278 429h1v1h-1zM267 430h1v1h-1zM258 432h1v1h-1zM263 433h1v1h-1zM262 434h1v1h-1zM266 430h1v1h-1zM266 431h1v1h-1z" fill="#6a6a6a" fill-opacity="1.0"/>
<path d="M282 448h1v1h-1zM281 446h1v1h-1zM278 447h1v1h-1zM277 449h1v1h-1zM281 449h1v1h-1zM280 443h1v1h-1zM280 449h1v1h-1zM281 443h1v1h-1zM282 441h1v1h-1zM279 448h1v1h-1zM276 450h1v1h-1zM274 442h1v1h-1zM276 448h1v1h-1zM280 442h1v1h-1zM277 450h1v1h-1zM276 446h1v1h-1zM275 446h1v1h-1zM275 450h1v1h-1zM279 444h1v1h-1zM280 446h1v1h-1zM282 442h1v1h-1zM281 443h1v1h-1zM276 446h1v1h-1zM276 449h1v1h-1zM282 445h1v1h-1zM277 441h1v1h-1zM279 443h1v1h-1zM281 446h1v1h-1zM280 442h1v1h-1zM275 443h1v1h-1zM278 443h1v1h-1zM279 449h1v1h-1zM279 445h1v1h-1zM275 443h1v1h-1zM282 446h1v1h-1z" fill="#555" fill-opacity="1.0"/>
<path d="M281 453h1v1h-1zM287 455h1v1h-1zM281 450h1v1h-1zM291 450h1v1h-1zM291 447h1v1h-1zM283 454h1v1h-1zM291 447h1v1h-1zM278 450h1v1h-1zM283 447h1v1h-1zM290 460h1v1h-1zM276 452h1v1h-1zM283 445h1v1h-1zM282 444h1v1h-1zM281 457h1v1h-1zM282 460h1v1h-1zM285 446h1v1h-1zM290 453h1v1h-1zM275 451h1v1h-1z" fill="#777" fill-opacity="1.0"/>
<path d="M315 453h1v1h-1zM297 458h1v1h-1zM299 445h1v1h-1z" fill="#888" fill-opacity="1.0"/>
<rect x="246.5" y="414.5" width="72.9" height="55.8" fill="none" stroke="#2a2a2a" stroke-width="1.25"/>
<line x1="274.40" y1="414.50" x2="274.40" y2="470.30" stroke="#1a1a1a" stroke-width="1.2"/>
<line x1="246.50" y1="441.40" x2="319.40" y2="441.40" stroke="#1a1a1a" stroke-width="1.2"/>
<line x1="246.50" y1="470.30" x2="246.50" y2="472.30" stroke="#222" stroke-width="0.9"/>
<line x1="244.50" y1="470.30" x2="246.50" y2="470.30" stroke="#222" stroke-width="0.9"/>
<line x1="251.99" y1="470.30" x2="251.99" y2="471.60" stroke="#444" stroke-width="0.7"/>
<line x1="245.20" y1="466.10" x2="246.50" y2="466.10" stroke="#444" stroke-width="0.7"/>
<line x1="255.20" y1="470.30" x2="255.20" y2="471.60" stroke="#444" stroke-width="0.7"/>
<line x1="245.20" y1="463.64" x2="246.50" y2="463.64" stroke="#444" stroke-width="0.7"/>
<line x1="257.47" y1="470.30" x2="257.47" y2="471.60" stroke="#444" stroke-width="0.7"/>
<line x1="245.20" y1="461.90" x2="246.50" y2="461.90" stroke="#444" stroke-width="0.7"/>
<line x1="259.24" y1="470.30" x2="259.24" y2="471.60" stroke="#444" stroke-width="0.7"/>
<line x1="245.20" y1="460.55" x2="246.50" y2="460.55" stroke="#444" stroke-width="0.7"/>
<line x1="260.68" y1="470.30" x2="260.68" y2="471.60" stroke="#444" stroke-width="0.7"/>
<line x1="245.20" y1="459.44" x2="246.50" y2="459.44" stroke="#444" stroke-width="0.7"/>
<line x1="261.90" y1="470.30" x2="261.90" y2="471.60" stroke="#444" stroke-width="0.7"/>
<line x1="245.20" y1="458.51" x2="246.50" y2="458.51" stroke="#444" stroke-width="0.7"/>
<line x1="262.96" y1="470.30" x2="262.96" y2="471.60" stroke="#444" stroke-width="0.7"/>
<line x1="245.20" y1="457.70" x2="246.50" y2="457.70" stroke="#444" stroke-width="0.7"/>
<line x1="263.89" y1="470.30" x2="263.89" y2="471.60" stroke="#444" stroke-width="0.7"/>
<line x1="245.20" y1="456.99" x2="246.50" y2="456.99" stroke="#444" stroke-width="0.7"/>
<text x="246.70" y="481.00" font-size="6.5" font-family="'Liberation Sans', Arial, sans-serif" text-anchor="middle" stroke="#000" stroke-width="0.4">10<tspan font-size="5.4" dx="0.3" dy="-2.4">0</tspan></text>
<text transform="translate(240.90,470.30) rotate(-90)" font-size="5.9" font-family="'Liberation Sans', Arial, sans-serif" text-anchor="middle" stroke="#000" stroke-width="0.45">10<tspan font-size="5.1" dx="0.6" dy="-2.1">0</tspan></text>
<line x1="264.73" y1="470.30" x2="264.73" y2="472.30" stroke="#222" stroke-width="0.9"/>
<line x1="244.50" y1="456.35" x2="246.50" y2="456.35" stroke="#222" stroke-width="0.9"/>
<line x1="270.21" y1="470.30" x2="270.21" y2="471.60" stroke="#444" stroke-width="0.7"/>
<line x1="245.20" y1="452.15" x2="246.50" y2="452.15" stroke="#444" stroke-width="0.7"/>
<line x1="273.42" y1="470.30" x2="273.42" y2="471.60" stroke="#444" stroke-width="0.7"/>
<line x1="245.20" y1="449.69" x2="246.50" y2="449.69" stroke="#444" stroke-width="0.7"/>
<line x1="275.70" y1="470.30" x2="275.70" y2="471.60" stroke="#444" stroke-width="0.7"/>
<line x1="245.20" y1="447.95" x2="246.50" y2="447.95" stroke="#444" stroke-width="0.7"/>
<line x1="277.46" y1="470.30" x2="277.46" y2="471.60" stroke="#444" stroke-width="0.7"/>
<line x1="245.20" y1="446.60" x2="246.50" y2="446.60" stroke="#444" stroke-width="0.7"/>
<line x1="278.91" y1="470.30" x2="278.91" y2="471.60" stroke="#444" stroke-width="0.7"/>
<line x1="245.20" y1="445.49" x2="246.50" y2="445.49" stroke="#444" stroke-width="0.7"/>
<line x1="280.13" y1="470.30" x2="280.13" y2="471.60" stroke="#444" stroke-width="0.7"/>
<line x1="245.20" y1="444.56" x2="246.50" y2="444.56" stroke="#444" stroke-width="0.7"/>
<line x1="281.18" y1="470.30" x2="281.18" y2="471.60" stroke="#444" stroke-width="0.7"/>
<line x1="245.20" y1="443.75" x2="246.50" y2="443.75" stroke="#444" stroke-width="0.7"/>
<line x1="282.12" y1="470.30" x2="282.12" y2="471.60" stroke="#444" stroke-width="0.7"/>
<line x1="245.20" y1="443.04" x2="246.50" y2="443.04" stroke="#444" stroke-width="0.7"/>
<text x="264.93" y="481.00" font-size="6.5" font-family="'Liberation Sans', Arial, sans-serif" text-anchor="middle" stroke="#000" stroke-width="0.4">10<tspan font-size="5.4" dx="0.3" dy="-2.4">1</tspan></text>
<text transform="translate(240.90,456.35) rotate(-90)" font-size="5.9" font-family="'Liberation Sans', Arial, sans-serif" text-anchor="middle" stroke="#000" stroke-width="0.45">10<tspan font-size="5.1" dx="0.6" dy="-2.1">1</tspan></text>
<line x1="282.95" y1="470.30" x2="282.95" y2="472.30" stroke="#222" stroke-width="0.9"/>
<line x1="244.50" y1="442.40" x2="246.50" y2="442.40" stroke="#222" stroke-width="0.9"/>
<line x1="288.44" y1="470.30" x2="288.44" y2="471.60" stroke="#444" stroke-width="0.7"/>
<line x1="245.20" y1="438.20" x2="246.50" y2="438.20" stroke="#444" stroke-width="0.7"/>
<line x1="291.65" y1="470.30" x2="291.65" y2="471.60" stroke="#444" stroke-width="0.7"/>
<line x1="245.20" y1="435.74" x2="246.50" y2="435.74" stroke="#444" stroke-width="0.7"/>
<line x1="293.92" y1="470.30" x2="293.92" y2="471.60" stroke="#444" stroke-width="0.7"/>
<line x1="245.20" y1="434.00" x2="246.50" y2="434.00" stroke="#444" stroke-width="0.7"/>
<line x1="295.69" y1="470.30" x2="295.69" y2="471.60" stroke="#444" stroke-width="0.7"/>
<line x1="245.20" y1="432.65" x2="246.50" y2="432.65" stroke="#444" stroke-width="0.7"/>
<line x1="297.13" y1="470.30" x2="297.13" y2="471.60" stroke="#444" stroke-width="0.7"/>
<line x1="245.20" y1="431.54" x2="246.50" y2="431.54" stroke="#444" stroke-width="0.7"/>
<line x1="298.35" y1="470.30" x2="298.35" y2="471.60" stroke="#444" stroke-width="0.7"/>
<line x1="245.20" y1="430.61" x2="246.50" y2="430.61" stroke="#444" stroke-width="0.7"/>
<line x1="299.41" y1="470.30" x2="299.41" y2="471.60" stroke="#444" stroke-width="0.7"/>
<line x1="245.20" y1="429.80" x2="246.50" y2="429.80" stroke="#444" stroke-width="0.7"/>
<line x1="300.34" y1="470.30" x2="300.34" y2="471.60" stroke="#444" stroke-width="0.7"/>
<line x1="245.20" y1="429.09" x2="246.50" y2="429.09" stroke="#444" stroke-width="0.7"/>
<text x="283.15" y="481.00" font-size="6.5" font-family="'Liberation Sans', Arial, sans-serif" text-anchor="middle" stroke="#000" stroke-width="0.4">10<tspan font-size="5.4" dx="0.3" dy="-2.4">2</tspan></text>
<text transform="translate(240.90,442.40) rotate(-90)" font-size="5.9" font-family="'Liberation Sans', Arial, sans-serif" text-anchor="middle" stroke="#000" stroke-width="0.45">10<tspan font-size="5.1" dx="0.6" dy="-2.1">2</tspan></text>
<line x1="301.17" y1="470.30" x2="301.17" y2="472.30" stroke="#222" stroke-width="0.9"/>
<line x1="244.50" y1="428.45" x2="246.50" y2="428.45" stroke="#222" stroke-width="0.9"/>
<line x1="306.66" y1="470.30" x2="306.66" y2="471.60" stroke="#444" stroke-width="0.7"/>
<line x1="245.20" y1="424.25" x2="246.50" y2="424.25" stroke="#444" stroke-width="0.7"/>
<line x1="309.87" y1="470.30" x2="309.87" y2="471.60" stroke="#444" stroke-width="0.7"/>
<line x1="245.20" y1="421.79" x2="246.50" y2="421.79" stroke="#444" stroke-width="0.7"/>
<line x1="312.15" y1="470.30" x2="312.15" y2="471.60" stroke="#444" stroke-width="0.7"/>
<line x1="245.20" y1="420.05" x2="246.50" y2="420.05" stroke="#444" stroke-width="0.7"/>
<line x1="313.91" y1="470.30" x2="313.91" y2="471.60" stroke="#444" stroke-width="0.7"/>
<line x1="245.20" y1="418.70" x2="246.50" y2="418.70" stroke="#444" stroke-width="0.7"/>
<line x1="315.36" y1="470.30" x2="315.36" y2="471.60" stroke="#444" stroke-width="0.7"/>
<line x1="245.20" y1="417.59" x2="246.50" y2="417.59" stroke="#444" stroke-width="0.7"/>
<line x1="316.58" y1="470.30" x2="316.58" y2="471.60" stroke="#444" stroke-width="0.7"/>
<line x1="245.20" y1="416.66" x2="246.50" y2="416.66" stroke="#444" stroke-width="0.7"/>
<line x1="317.63" y1="470.30" x2="317.63" y2="471.60" stroke="#444" stroke-width="0.7"/>
<line x1="245.20" y1="415.85" x2="246.50" y2="415.85" stroke="#444" stroke-width="0.7"/>
<line x1="318.57" y1="470.30" x2="318.57" y2="471.60" stroke="#444" stroke-width="0.7"/>
<line x1="245.20" y1="415.14" x2="246.50" y2="415.14" stroke="#444" stroke-width="0.7"/>
<text x="301.37" y="481.00" font-size="6.5" font-family="'Liberation Sans', Arial, sans-serif" text-anchor="middle" stroke="#000" stroke-width="0.4">10<tspan font-size="5.4" dx="0.3" dy="-2.4">3</tspan></text>
<text transform="translate(240.90,428.45) rotate(-90)" font-size="5.9" font-family="'Liberation Sans', Arial, sans-serif" text-anchor="middle" stroke="#000" stroke-width="0.45">10<tspan font-size="5.1" dx="0.6" dy="-2.1">3</tspan></text>
<line x1="319.40" y1="470.30" x2="319.40" y2="472.30" stroke="#222" stroke-width="0.9"/>
<line x1="244.50" y1="414.50" x2="246.50" y2="414.50" stroke="#222" stroke-width="0.9"/>
<text x="319.60" y="481.00" font-size="6.5" font-family="'Liberation Sans', Arial, sans-serif" text-anchor="middle" stroke="#000" stroke-width="0.4">10<tspan font-size="5.4" dx="0.3" dy="-2.4">4</tspan></text>
<text transform="translate(240.90,414.50) rotate(-90)" font-size="5.9" font-family="'Liberation Sans', Arial, sans-serif" text-anchor="middle" stroke="#000" stroke-width="0.45">10<tspan font-size="5.1" dx="0.6" dy="-2.1">4</tspan></text>
<text transform="translate(232.80,458.60) rotate(-90)" font-size="6.9" font-weight="normal" font-style="normal" font-family="'Liberation Sans', Arial, sans-serif" fill="#000" textLength="29.78" lengthAdjust="spacingAndGlyphs" stroke="#000" stroke-width="0.32">JON/A-PE</text>
<text x="266.64" y="487.30" font-size="6.4" font-weight="normal" font-style="normal" font-family="'Liberation Sans', Arial, sans-serif" fill="#000" textLength="31.24" lengthAdjust="spacingAndGlyphs" stroke="#000" stroke-width="0.32">CD62-FITC</text>
<polygon points="361.5,441.4 388.5,441.4 388.5,456.0 380.0,457.0 370.0,455.5 361.5,454.0" fill="url(#gV)"/>
<polygon points="361.5,439.2 373.9,437.7 381.3,435.6 388.7,433.5 394.0,431.0 399.3,430.0 401.5,431.0 400.3,435.9 396.0,440.1 392.0,441.4 361.5,441.4" fill="url(#gC)"/>
<path d="M369 457h1v1h-1zM363 460h1v1h-1zM382 463h1v1h-1zM376 461h1v1h-1zM370 457h1v1h-1zM380 454h1v1h-1zM374 457h1v1h-1zM363 458h1v1h-1zM383 455h1v1h-1zM383 453h1v1h-1zM376 466h1v1h-1zM378 454h1v1h-1zM376 456h1v1h-1zM369 458h1v1h-1zM363 454h1v1h-1zM379 464h1v1h-1zM369 454h1v1h-1zM381 465h1v1h-1zM369 453h1v1h-1zM371 453h1v1h-1zM385 459h1v1h-1zM364 459h1v1h-1zM368 458h1v1h-1zM380 467h1v1h-1zM373 463h1v1h-1zM384 465h1v1h-1zM364 464h1v1h-1zM361 465h1v1h-1zM383 465h1v1h-1zM365 467h1v1h-1zM369 464h1v1h-1zM366 454h1v1h-1zM373 459h1v1h-1zM385 462h1v1h-1zM374 459h1v1h-1zM381 459h1v1h-1zM365 456h1v1h-1zM375 454h1v1h-1zM367 467h1v1h-1zM367 456h1v1h-1zM369 453h1v1h-1zM371 456h1v1h-1zM364 453h1v1h-1zM387 454h1v1h-1zM371 453h1v1h-1zM384 455h1v1h-1zM361 469h1v1h-1zM371 455h1v1h-1zM380 456h1v1h-1zM385 455h1v1h-1zM386 465h1v1h-1zM377 465h1v1h-1zM387 457h1v1h-1zM367 453h1v1h-1zM370 465h1v1h-1zM379 454h1v1h-1zM378 456h1v1h-1zM383 454h1v1h-1zM364 467h1v1h-1zM371 455h1v1h-1zM378 459h1v1h-1zM363 462h1v1h-1zM375 455h1v1h-1zM385 460h1v1h-1zM362 463h1v1h-1zM380 457h1v1h-1zM373 456h1v1h-1zM367 456h1v1h-1zM382 460h1v1h-1zM371 455h1v1h-1zM378 457h1v1h-1zM364 461h1v1h-1zM382 463h1v1h-1zM386 463h1v1h-1zM386 461h1v1h-1zM387 453h1v1h-1zM363 462h1v1h-1zM383 454h1v1h-1zM368 466h1v1h-1zM364 467h1v1h-1zM382 455h1v1h-1zM385 468h1v1h-1zM363 461h1v1h-1zM367 463h1v1h-1zM374 463h1v1h-1zM384 462h1v1h-1zM373 453h1v1h-1zM362 460h1v1h-1zM381 469h1v1h-1zM387 465h1v1h-1zM365 458h1v1h-1zM387 467h1v1h-1zM372 457h1v1h-1zM384 466h1v1h-1zM378 455h1v1h-1zM387 453h1v1h-1zM379 458h1v1h-1zM369 465h1v1h-1zM380 462h1v1h-1zM370 455h1v1h-1zM371 458h1v1h-1zM361 464h1v1h-1zM363 463h1v1h-1zM366 468h1v1h-1zM379 453h1v1h-1zM375 463h1v1h-1zM372 462h1v1h-1zM377 455h1v1h-1zM370 468h1v1h-1zM370 458h1v1h-1zM377 461h1v1h-1zM381 459h1v1h-1zM376 462h1v1h-1zM387 460h1v1h-1zM388 465h1v1h-1zM386 462h1v1h-1zM369 453h1v1h-1zM381 453h1v1h-1zM364 467h1v1h-1zM388 464h1v1h-1zM376 453h1v1h-1zM363 466h1v1h-1zM364 462h1v1h-1zM378 460h1v1h-1zM379 463h1v1h-1zM371 468h1v1h-1zM373 455h1v1h-1zM383 453h1v1h-1zM382 462h1v1h-1zM381 455h1v1h-1zM371 463h1v1h-1zM370 462h1v1h-1zM379 462h1v1h-1zM364 465h1v1h-1zM379 454h1v1h-1zM380 454h1v1h-1zM382 459h1v1h-1zM368 454h1v1h-1zM370 459h1v1h-1zM368 455h1v1h-1zM378 465h1v1h-1zM373 464h1v1h-1zM385 466h1v1h-1zM377 455h1v1h-1zM382 459h1v1h-1zM387 461h1v1h-1zM382 453h1v1h-1zM367 455h1v1h-1zM370 465h1v1h-1zM362 455h1v1h-1zM372 467h1v1h-1zM373 458h1v1h-1zM370 458h1v1h-1zM371 453h1v1h-1zM366 466h1v1h-1zM383 457h1v1h-1zM372 454h1v1h-1zM362 454h1v1h-1zM373 454h1v1h-1zM371 464h1v1h-1zM366 456h1v1h-1zM380 460h1v1h-1zM372 456h1v1h-1zM382 467h1v1h-1zM378 459h1v1h-1zM387 458h1v1h-1zM370 468h1v1h-1zM362 465h1v1h-1zM381 464h1v1h-1zM366 454h1v1h-1zM377 458h1v1h-1zM364 464h1v1h-1zM384 454h1v1h-1zM371 458h1v1h-1zM369 453h1v1h-1zM385 457h1v1h-1zM380 459h1v1h-1zM377 454h1v1h-1zM385 460h1v1h-1zM383 453h1v1h-1zM361 458h1v1h-1zM386 462h1v1h-1zM366 463h1v1h-1zM381 457h1v1h-1zM369 454h1v1h-1zM369 469h1v1h-1zM372 459h1v1h-1zM361 458h1v1h-1zM384 453h1v1h-1zM368 464h1v1h-1zM378 464h1v1h-1zM365 463h1v1h-1zM364 458h1v1h-1zM361 458h1v1h-1zM374 465h1v1h-1zM372 468h1v1h-1zM380 460h1v1h-1zM373 461h1v1h-1zM375 465h1v1h-1zM376 456h1v1h-1zM365 454h1v1h-1zM371 463h1v1h-1zM384 461h1v1h-1zM388 456h1v1h-1zM374 465h1v1h-1zM369 464h1v1h-1zM384 453h1v1h-1zM376 459h1v1h-1zM362 462h1v1h-1zM365 467h1v1h-1zM378 463h1v1h-1zM364 454h1v1h-1zM375 453h1v1h-1zM387 468h1v1h-1zM375 466h1v1h-1zM373 457h1v1h-1zM383 457h1v1h-1zM375 464h1v1h-1zM384 461h1v1h-1zM361 455h1v1h-1zM384 458h1v1h-1zM365 469h1v1h-1zM367 458h1v1h-1zM376 453h1v1h-1zM379 453h1v1h-1zM365 453h1v1h-1zM382 461h1v1h-1zM374 456h1v1h-1zM381 461h1v1h-1zM371 455h1v1h-1zM371 464h1v1h-1zM375 458h1v1h-1zM379 468h1v1h-1zM382 464h1v1h-1zM370 458h1v1h-1zM378 469h1v1h-1zM368 456h1v1h-1zM380 458h1v1h-1zM372 456h1v1h-1zM386 453h1v1h-1zM381 455h1v1h-1zM363 453h1v1h-1zM378 453h1v1h-1zM371 453h1v1h-1zM370 456h1v1h-1zM367 459h1v1h-1zM380 460h1v1h-1zM384 461h1v1h-1zM373 454h1v1h-1zM374 455h1v1h-1zM370 453h1v1h-1zM383 467h1v1h-1zM388 454h1v1h-1zM373 461h1v1h-1zM373 458h1v1h-1zM366 453h1v1h-1zM369 465h1v1h-1zM372 459h1v1h-1zM372 460h1v1h-1zM366 463h1v1h-1z" fill="#4a4a4a" fill-opacity="1.0"/>
<path d="M368 438h1v1h-1zM378 434h1v1h-1zM389 431h1v1h-1zM368 437h1v1h-1zM387 433h1v1h-1zM363 437h1v1h-1zM368 435h1v1h-1zM381 435h1v1h-1zM378 433h1v1h-1zM369 437h1v1h-1zM396 429h1v1h-1zM374 435h1v1h-1zM383 434h1v1h-1zM383 432h1v1h-1zM370 435h1v1h-1zM391 430h1v1h-1zM371 435h1v1h-1zM388 432h1v1h-1zM367 437h1v1h-1zM381 432h1v1h-1zM365 435h1v1h-1zM380 432h1v1h-1zM378 434h1v1h-1zM381 433h1v1h-1zM368 437h1v1h-1zM363 437h1v1h-1zM388 430h1v1h-1zM382 434h1v1h-1zM379 434h1v1h-1zM365 437h1v1h-1zM382 432h1v1h-1zM375 435h1v1h-1zM384 432h1v1h-1zM374 433h1v1h-1zM389 431h1v1h-1zM375 435h1v1h-1zM377 436h1v1h-1zM367 437h1v1h-1zM368 435h1v1h-1zM376 435h1v1h-1zM387 432h1v1h-1zM368 436h1v1h-1zM364 437h1v1h-1zM389 432h1v1h-1zM374 435h1v1h-1z" fill="#6a6a6a" fill-opacity="1.0"/>
<path d="M389 448h1v1h-1zM397 441h1v1h-1zM396 445h1v1h-1zM397 446h1v1h-1zM395 451h1v1h-1zM397 446h1v1h-1zM391 444h1v1h-1zM390 442h1v1h-1zM396 451h1v1h-1zM396 446h1v1h-1zM391 448h1v1h-1zM394 453h1v1h-1zM389 450h1v1h-1zM390 444h1v1h-1zM397 445h1v1h-1zM396 449h1v1h-1zM390 452h1v1h-1zM394 443h1v1h-1zM395 447h1v1h-1zM393 444h1v1h-1zM393 443h1v1h-1zM395 450h1v1h-1zM389 446h1v1h-1zM397 447h1v1h-1zM394 452h1v1h-1zM393 441h1v1h-1zM391 444h1v1h-1zM391 442h1v1h-1zM394 441h1v1h-1zM390 448h1v1h-1zM395 445h1v1h-1zM389 450h1v1h-1zM392 444h1v1h-1zM391 443h1v1h-1zM389 451h1v1h-1zM395 442h1v1h-1zM396 448h1v1h-1zM392 442h1v1h-1zM391 454h1v1h-1zM394 453h1v1h-1z" fill="#555" fill-opacity="1.0"/>
<path d="M395 448h1v1h-1zM397 451h1v1h-1zM389 448h1v1h-1zM398 446h1v1h-1zM390 442h1v1h-1zM394 457h1v1h-1zM394 447h1v1h-1zM400 454h1v1h-1zM398 445h1v1h-1zM399 452h1v1h-1zM392 455h1v1h-1zM395 454h1v1h-1zM399 450h1v1h-1zM399 459h1v1h-1zM396 444h1v1h-1z" fill="#777" fill-opacity="1.0"/>
<path d="M409 452h1v1h-1zM417 458h1v1h-1zM416 446h1v1h-1z" fill="#888" fill-opacity="1.0"/>
<rect x="361.0" y="414.5" width="73.4" height="55.8" fill="none" stroke="#2a2a2a" stroke-width="1.25"/>
<line x1="388.50" y1="414.50" x2="388.50" y2="470.30" stroke="#1a1a1a" stroke-width="1.2"/>
<line x1="361.00" y1="441.40" x2="434.40" y2="441.40" stroke="#1a1a1a" stroke-width="1.2"/>
<line x1="361.00" y1="470.30" x2="361.00" y2="472.30" stroke="#222" stroke-width="0.9"/>
<line x1="359.00" y1="470.30" x2="361.00" y2="470.30" stroke="#222" stroke-width="0.9"/>
<line x1="366.52" y1="470.30" x2="366.52" y2="471.60" stroke="#444" stroke-width="0.7"/>
<line x1="359.70" y1="466.10" x2="361.00" y2="466.10" stroke="#444" stroke-width="0.7"/>
<line x1="369.76" y1="470.30" x2="369.76" y2="471.60" stroke="#444" stroke-width="0.7"/>
<line x1="359.70" y1="463.64" x2="361.00" y2="463.64" stroke="#444" stroke-width="0.7"/>
<line x1="372.05" y1="470.30" x2="372.05" y2="471.60" stroke="#444" stroke-width="0.7"/>
<line x1="359.70" y1="461.90" x2="361.00" y2="461.90" stroke="#444" stroke-width="0.7"/>
<line x1="373.83" y1="470.30" x2="373.83" y2="471.60" stroke="#444" stroke-width="0.7"/>
<line x1="359.70" y1="460.55" x2="361.00" y2="460.55" stroke="#444" stroke-width="0.7"/>
<line x1="375.28" y1="470.30" x2="375.28" y2="471.60" stroke="#444" stroke-width="0.7"/>
<line x1="359.70" y1="459.44" x2="361.00" y2="459.44" stroke="#444" stroke-width="0.7"/>
<line x1="376.51" y1="470.30" x2="376.51" y2="471.60" stroke="#444" stroke-width="0.7"/>
<line x1="359.70" y1="458.51" x2="361.00" y2="458.51" stroke="#444" stroke-width="0.7"/>
<line x1="377.57" y1="470.30" x2="377.57" y2="471.60" stroke="#444" stroke-width="0.7"/>
<line x1="359.70" y1="457.70" x2="361.00" y2="457.70" stroke="#444" stroke-width="0.7"/>
<line x1="378.51" y1="470.30" x2="378.51" y2="471.60" stroke="#444" stroke-width="0.7"/>
<line x1="359.70" y1="456.99" x2="361.00" y2="456.99" stroke="#444" stroke-width="0.7"/>
<text x="361.20" y="481.00" font-size="6.5" font-family="'Liberation Sans', Arial, sans-serif" text-anchor="middle" stroke="#000" stroke-width="0.4">10<tspan font-size="5.4" dx="0.3" dy="-2.4">0</tspan></text>
<text transform="translate(355.40,470.30) rotate(-90)" font-size="5.9" font-family="'Liberation Sans', Arial, sans-serif" text-anchor="middle" stroke="#000" stroke-width="0.45">10<tspan font-size="5.1" dx="0.6" dy="-2.1">0</tspan></text>
<line x1="379.35" y1="470.30" x2="379.35" y2="472.30" stroke="#222" stroke-width="0.9"/>
<line x1="359.00" y1="456.35" x2="361.00" y2="456.35" stroke="#222" stroke-width="0.9"/>
<line x1="384.87" y1="470.30" x2="384.87" y2="471.60" stroke="#444" stroke-width="0.7"/>
<line x1="359.70" y1="452.15" x2="361.00" y2="452.15" stroke="#444" stroke-width="0.7"/>
<line x1="388.11" y1="470.30" x2="388.11" y2="471.60" stroke="#444" stroke-width="0.7"/>
<line x1="359.70" y1="449.69" x2="361.00" y2="449.69" stroke="#444" stroke-width="0.7"/>
<line x1="390.40" y1="470.30" x2="390.40" y2="471.60" stroke="#444" stroke-width="0.7"/>
<line x1="359.70" y1="447.95" x2="361.00" y2="447.95" stroke="#444" stroke-width="0.7"/>
<line x1="392.18" y1="470.30" x2="392.18" y2="471.60" stroke="#444" stroke-width="0.7"/>
<line x1="359.70" y1="446.60" x2="361.00" y2="446.60" stroke="#444" stroke-width="0.7"/>
<line x1="393.63" y1="470.30" x2="393.63" y2="471.60" stroke="#444" stroke-width="0.7"/>
<line x1="359.70" y1="445.49" x2="361.00" y2="445.49" stroke="#444" stroke-width="0.7"/>
<line x1="394.86" y1="470.30" x2="394.86" y2="471.60" stroke="#444" stroke-width="0.7"/>
<line x1="359.70" y1="444.56" x2="361.00" y2="444.56" stroke="#444" stroke-width="0.7"/>
<line x1="395.92" y1="470.30" x2="395.92" y2="471.60" stroke="#444" stroke-width="0.7"/>
<line x1="359.70" y1="443.75" x2="361.00" y2="443.75" stroke="#444" stroke-width="0.7"/>
<line x1="396.86" y1="470.30" x2="396.86" y2="471.60" stroke="#444" stroke-width="0.7"/>
<line x1="359.70" y1="443.04" x2="361.00" y2="443.04" stroke="#444" stroke-width="0.7"/>
<text x="379.55" y="481.00" font-size="6.5" font-family="'Liberation Sans', Arial, sans-serif" text-anchor="middle" stroke="#000" stroke-width="0.4">10<tspan font-size="5.4" dx="0.3" dy="-2.4">1</tspan></text>
<text transform="translate(355.40,456.35) rotate(-90)" font-size="5.9" font-family="'Liberation Sans', Arial, sans-serif" text-anchor="middle" stroke="#000" stroke-width="0.45">10<tspan font-size="5.1" dx="0.6" dy="-2.1">1</tspan></text>
<line x1="397.70" y1="470.30" x2="397.70" y2="472.30" stroke="#222" stroke-width="0.9"/>
<line x1="359.00" y1="442.40" x2="361.00" y2="442.40" stroke="#222" stroke-width="0.9"/>
<line x1="403.22" y1="470.30" x2="403.22" y2="471.60" stroke="#444" stroke-width="0.7"/>
<line x1="359.70" y1="438.20" x2="361.00" y2="438.20" stroke="#444" stroke-width="0.7"/>
<line x1="406.46" y1="470.30" x2="406.46" y2="471.60" stroke="#444" stroke-width="0.7"/>
<line x1="359.70" y1="435.74" x2="361.00" y2="435.74" stroke="#444" stroke-width="0.7"/>
<line x1="408.75" y1="470.30" x2="408.75" y2="471.60" stroke="#444" stroke-width="0.7"/>
<line x1="359.70" y1="434.00" x2="361.00" y2="434.00" stroke="#444" stroke-width="0.7"/>
<line x1="410.53" y1="470.30" x2="410.53" y2="471.60" stroke="#444" stroke-width="0.7"/>
<line x1="359.70" y1="432.65" x2="361.00" y2="432.65" stroke="#444" stroke-width="0.7"/>
<line x1="411.98" y1="470.30" x2="411.98" y2="471.60" stroke="#444" stroke-width="0.7"/>
<line x1="359.70" y1="431.54" x2="361.00" y2="431.54" stroke="#444" stroke-width="0.7"/>
<line x1="413.21" y1="470.30" x2="413.21" y2="471.60" stroke="#444" stroke-width="0.7"/>
<line x1="359.70" y1="430.61" x2="361.00" y2="430.61" stroke="#444" stroke-width="0.7"/>
<line x1="414.27" y1="470.30" x2="414.27" y2="471.60" stroke="#444" stroke-width="0.7"/>
<line x1="359.70" y1="429.80" x2="361.00" y2="429.80" stroke="#444" stroke-width="0.7"/>
<line x1="415.21" y1="470.30" x2="415.21" y2="471.60" stroke="#444" stroke-width="0.7"/>
<line x1="359.70" y1="429.09" x2="361.00" y2="429.09" stroke="#444" stroke-width="0.7"/>
<text x="397.90" y="481.00" font-size="6.5" font-family="'Liberation Sans', Arial, sans-serif" text-anchor="middle" stroke="#000" stroke-width="0.4">10<tspan font-size="5.4" dx="0.3" dy="-2.4">2</tspan></text>
<text transform="translate(355.40,442.40) rotate(-90)" font-size="5.9" font-family="'Liberation Sans', Arial, sans-serif" text-anchor="middle" stroke="#000" stroke-width="0.45">10<tspan font-size="5.1" dx="0.6" dy="-2.1">2</tspan></text>
<line x1="416.05" y1="470.30" x2="416.05" y2="472.30" stroke="#222" stroke-width="0.9"/>
<line x1="359.00" y1="428.45" x2="361.00" y2="428.45" stroke="#222" stroke-width="0.9"/>
<line x1="421.57" y1="470.30" x2="421.57" y2="471.60" stroke="#444" stroke-width="0.7"/>
<line x1="359.70" y1="424.25" x2="361.00" y2="424.25" stroke="#444" stroke-width="0.7"/>
<line x1="424.81" y1="470.30" x2="424.81" y2="471.60" stroke="#444" stroke-width="0.7"/>
<line x1="359.70" y1="421.79" x2="361.00" y2="421.79" stroke="#444" stroke-width="0.7"/>
<line x1="427.10" y1="470.30" x2="427.10" y2="471.60" stroke="#444" stroke-width="0.7"/>
<line x1="359.70" y1="420.05" x2="361.00" y2="420.05" stroke="#444" stroke-width="0.7"/>
<line x1="428.88" y1="470.30" x2="428.88" y2="471.60" stroke="#444" stroke-width="0.7"/>
<line x1="359.70" y1="418.70" x2="361.00" y2="418.70" stroke="#444" stroke-width="0.7"/>
<line x1="430.33" y1="470.30" x2="430.33" y2="471.60" stroke="#444" stroke-width="0.7"/>
<line x1="359.70" y1="417.59" x2="361.00" y2="417.59" stroke="#444" stroke-width="0.7"/>
<line x1="431.56" y1="470.30" x2="431.56" y2="471.60" stroke="#444" stroke-width="0.7"/>
<line x1="359.70" y1="416.66" x2="361.00" y2="416.66" stroke="#444" stroke-width="0.7"/>
<line x1="432.62" y1="470.30" x2="432.62" y2="471.60" stroke="#444" stroke-width="0.7"/>
<line x1="359.70" y1="415.85" x2="361.00" y2="415.85" stroke="#444" stroke-width="0.7"/>
<line x1="433.56" y1="470.30" x2="433.56" y2="471.60" stroke="#444" stroke-width="0.7"/>
<line x1="359.70" y1="415.14" x2="361.00" y2="415.14" stroke="#444" stroke-width="0.7"/>
<text x="416.25" y="481.00" font-size="6.5" font-family="'Liberation Sans', Arial, sans-serif" text-anchor="middle" stroke="#000" stroke-width="0.4">10<tspan font-size="5.4" dx="0.3" dy="-2.4">3</tspan></text>
<text transform="translate(355.40,428.45) rotate(-90)" font-size="5.9" font-family="'Liberation Sans', Arial, sans-serif" text-anchor="middle" stroke="#000" stroke-width="0.45">10<tspan font-size="5.1" dx="0.6" dy="-2.1">3</tspan></text>
<line x1="434.40" y1="470.30" x2="434.40" y2="472.30" stroke="#222" stroke-width="0.9"/>
<line x1="359.00" y1="414.50" x2="361.00" y2="414.50" stroke="#222" stroke-width="0.9"/>
<text x="434.60" y="481.00" font-size="6.5" font-family="'Liberation Sans', Arial, sans-serif" text-anchor="middle" stroke="#000" stroke-width="0.4">10<tspan font-size="5.4" dx="0.3" dy="-2.4">4</tspan></text>
<text transform="translate(355.40,414.50) rotate(-90)" font-size="5.9" font-family="'Liberation Sans', Arial, sans-serif" text-anchor="middle" stroke="#000" stroke-width="0.45">10<tspan font-size="5.1" dx="0.6" dy="-2.1">4</tspan></text>
<text transform="translate(347.30,458.60) rotate(-90)" font-size="6.9" font-weight="normal" font-style="normal" font-family="'Liberation Sans', Arial, sans-serif" fill="#000" textLength="29.78" lengthAdjust="spacingAndGlyphs" stroke="#000" stroke-width="0.32">JON/A-PE</text>
<text x="381.39" y="487.30" font-size="6.4" font-weight="normal" font-style="normal" font-family="'Liberation Sans', Arial, sans-serif" fill="#000" textLength="31.24" lengthAdjust="spacingAndGlyphs" stroke="#000" stroke-width="0.32">CD62-FITC</text>
</svg>
</body></html>
